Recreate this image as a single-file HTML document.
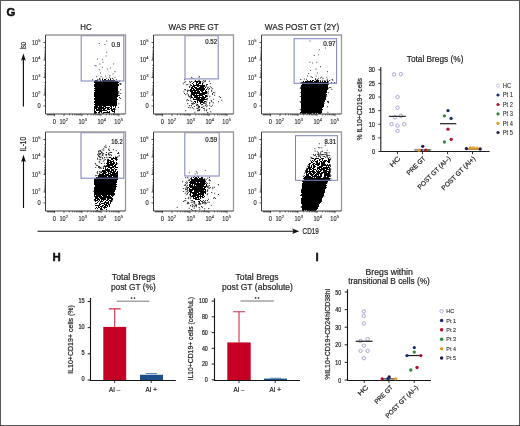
<!DOCTYPE html>
<html><head><meta charset="utf-8"><style>
html,body{margin:0;padding:0;background:#fff;}
svg{display:block;}
text{font-family:"Liberation Sans", sans-serif;}
</style></head><body>
<svg width="520" height="426" viewBox="0 0 520 426" font-family='"Liberation Sans", sans-serif' fill="#262626">
<rect x="0" y="0" width="520" height="426" fill="#fff"/>
<g>
<path d="M103 80.5h6M95 81.5h23M95 82.5h23M303 82.5h25M95 83.5h23M303 83.5h25M95 84.5h23M303 84.5h25M95 85.5h23M302 85.5h26M95 86.5h23M301 86.5h26M95 87.5h23M301 87.5h26M95 88.5h23M301 88.5h26M95 89.5h23M301 89.5h26M95 90.5h23M301 90.5h26M95 91.5h23M301 91.5h26M95 92.5h23M301 92.5h25M95 93.5h23M301 93.5h25M95 94.5h23M301 94.5h25M95 95.5h23M301 95.5h25M95 96.5h23M301 96.5h25M95 97.5h22M301 97.5h24M95 98.5h22M301 98.5h24M95 99.5h22M301 99.5h24M95 100.5h22M301 100.5h24M95 101.5h22M301 101.5h23M95 102.5h22M301 102.5h23M95 103.5h21M301 103.5h23M95 104.5h21M301 104.5h23M95 105.5h21M301 105.5h22M301 106.5h22M301 107.5h22M301 108.5h21M301 109.5h21M301 110.5h21M301 111.5h21M301 112.5h20M98 176.5h1M97 177.5h20M95 178.5h22M95 179.5h22M304 179.5h25M95 180.5h21M303 180.5h26M95 181.5h21M303 181.5h24M95 182.5h21M303 182.5h24M95 183.5h21M303 183.5h23M95 184.5h21M303 184.5h23M95 185.5h21M302 185.5h24M95 186.5h21M302 186.5h24M95 187.5h21M302 187.5h23M95 188.5h20M302 188.5h23M95 189.5h20M302 189.5h23M95 190.5h20M302 190.5h23M95 191.5h20M302 191.5h22M95 192.5h19M302 192.5h22M95 193.5h19M302 193.5h22M95 194.5h19M302 194.5h22M302 195.5h21M302 196.5h21M302 197.5h20M302 198.5h20M302 199.5h19M302 200.5h19M302 201.5h18M302 202.5h18M302 203.5h18M302 204.5h17M302 205.5h17M302 206.5h16M302 207.5h16M302 208.5h15M302 209.5h15" stroke="#000" stroke-width="1" fill="none" shape-rendering="crispEdges"/>
<path d="M102.0 79.5h1M104.0 79.5h1M105.0 79.5h1M108.0 79.5h1M110.0 79.5h1M95.0 80.5h1M96.0 80.5h1M97.0 80.5h1M100.0 80.5h1M102.0 80.5h1M109.0 80.5h1M110.0 80.5h1M111.0 80.5h1M112.0 80.5h1M113.0 80.5h1M114.0 80.5h1M310.0 80.5h1M312.0 80.5h1M313.0 80.5h1M316.0 80.5h1M317.0 80.5h1M318.0 80.5h1M94.0 81.5h1M195.0 81.5h1M196.0 81.5h1M197.0 81.5h1M198.0 81.5h1M199.0 81.5h1M200.0 81.5h1M303.0 81.5h1M305.0 81.5h1M306.0 81.5h1M307.0 81.5h1M308.0 81.5h1M309.0 81.5h1M310.0 81.5h1M311.0 81.5h1M312.0 81.5h1M314.0 81.5h1M315.0 81.5h1M316.0 81.5h1M317.0 81.5h1M318.0 81.5h1M320.0 81.5h1M322.0 81.5h1M324.0 81.5h1M325.0 81.5h1M327.0 81.5h1M94.0 82.5h1M118.0 82.5h1M193.0 82.5h1M196.0 82.5h1M197.0 82.5h1M199.0 82.5h1M200.0 82.5h1M302.0 82.5h1M192.0 83.5h1M196.0 83.5h1M198.0 83.5h1M199.0 83.5h1M200.0 83.5h1M202.0 83.5h1M301.0 83.5h1M302.0 83.5h1M94.0 84.5h1M118.0 84.5h1M193.0 84.5h1M196.0 84.5h1M197.0 84.5h1M198.0 84.5h1M202.0 84.5h1M302.0 84.5h1M94.0 85.5h1M118.0 85.5h1M191.0 85.5h1M193.0 85.5h1M194.0 85.5h1M195.0 85.5h1M196.0 85.5h1M197.0 85.5h1M198.0 85.5h1M199.0 85.5h1M200.0 85.5h1M201.0 85.5h1M202.0 85.5h1M203.0 85.5h1M204.0 85.5h1M301.0 85.5h1M94.0 86.5h1M192.0 86.5h1M193.0 86.5h1M194.0 86.5h1M197.0 86.5h1M198.0 86.5h1M200.0 86.5h1M201.0 86.5h1M202.0 86.5h1M203.0 86.5h1M204.0 86.5h1M327.0 86.5h1M191.0 87.5h1M192.0 87.5h1M194.0 87.5h1M195.0 87.5h1M196.0 87.5h1M199.0 87.5h1M200.0 87.5h1M201.0 87.5h1M202.0 87.5h1M203.0 87.5h1M205.0 87.5h1M327.0 87.5h1M94.0 88.5h1M191.0 88.5h1M192.0 88.5h1M193.0 88.5h1M195.0 88.5h1M196.0 88.5h1M197.0 88.5h1M198.0 88.5h1M199.0 88.5h1M200.0 88.5h1M201.0 88.5h1M202.0 88.5h1M203.0 88.5h1M204.0 88.5h1M327.0 88.5h1M190.0 89.5h1M191.0 89.5h1M193.0 89.5h1M194.0 89.5h1M196.0 89.5h1M197.0 89.5h1M198.0 89.5h1M199.0 89.5h1M200.0 89.5h1M201.0 89.5h1M202.0 89.5h1M203.0 89.5h1M204.0 89.5h1M206.0 89.5h1M327.0 89.5h1M94.0 90.5h1M190.0 90.5h1M191.0 90.5h1M192.0 90.5h1M193.0 90.5h1M194.0 90.5h1M195.0 90.5h1M196.0 90.5h1M197.0 90.5h1M198.0 90.5h1M200.0 90.5h1M201.0 90.5h1M202.0 90.5h1M203.0 90.5h1M205.0 90.5h1M190.0 91.5h1M191.0 91.5h1M192.0 91.5h1M194.0 91.5h1M195.0 91.5h1M197.0 91.5h1M198.0 91.5h1M199.0 91.5h1M201.0 91.5h1M202.0 91.5h1M205.0 91.5h1M206.0 91.5h1M94.0 92.5h1M191.0 92.5h1M192.0 92.5h1M193.0 92.5h1M194.0 92.5h1M195.0 92.5h1M196.0 92.5h1M197.0 92.5h1M198.0 92.5h1M199.0 92.5h1M202.0 92.5h1M203.0 92.5h1M204.0 92.5h1M205.0 92.5h1M206.0 92.5h1M326.0 92.5h1M94.0 93.5h1M191.0 93.5h1M192.0 93.5h1M193.0 93.5h1M194.0 93.5h1M195.0 93.5h1M196.0 93.5h1M197.0 93.5h1M198.0 93.5h1M199.0 93.5h1M200.0 93.5h1M201.0 93.5h1M202.0 93.5h1M203.0 93.5h1M204.0 93.5h1M205.0 93.5h1M206.0 93.5h1M94.0 94.5h1M191.0 94.5h1M192.0 94.5h1M193.0 94.5h1M194.0 94.5h1M196.0 94.5h1M199.0 94.5h1M200.0 94.5h1M201.0 94.5h1M202.0 94.5h1M203.0 94.5h1M204.0 94.5h1M326.0 94.5h1M94.0 95.5h1M191.0 95.5h1M193.0 95.5h1M194.0 95.5h1M195.0 95.5h1M196.0 95.5h1M197.0 95.5h1M198.0 95.5h1M199.0 95.5h1M200.0 95.5h1M201.0 95.5h1M202.0 95.5h1M205.0 95.5h1M206.0 95.5h1M94.0 96.5h1M191.0 96.5h1M194.0 96.5h1M195.0 96.5h1M196.0 96.5h1M197.0 96.5h1M199.0 96.5h1M202.0 96.5h1M203.0 96.5h1M205.0 96.5h1M206.0 96.5h1M191.0 97.5h1M192.0 97.5h1M194.0 97.5h1M195.0 97.5h1M196.0 97.5h1M197.0 97.5h1M198.0 97.5h1M199.0 97.5h1M200.0 97.5h1M201.0 97.5h1M202.0 97.5h1M203.0 97.5h1M204.0 97.5h1M205.0 97.5h1M325.0 97.5h1M94.0 98.5h1M193.0 98.5h1M196.0 98.5h1M197.0 98.5h1M198.0 98.5h1M199.0 98.5h1M201.0 98.5h1M202.0 98.5h1M203.0 98.5h1M204.0 98.5h1M325.0 98.5h1M94.0 99.5h1M117.0 99.5h1M193.0 99.5h1M194.0 99.5h1M195.0 99.5h1M196.0 99.5h1M197.0 99.5h1M198.0 99.5h1M199.0 99.5h1M200.0 99.5h1M201.0 99.5h1M202.0 99.5h1M203.0 99.5h1M204.0 99.5h1M205.0 99.5h1M325.0 99.5h1M197.0 100.5h1M198.0 100.5h1M199.0 100.5h1M200.0 100.5h1M201.0 100.5h1M202.0 100.5h1M203.0 100.5h1M94.0 101.5h1M194.0 101.5h1M195.0 101.5h1M197.0 101.5h1M199.0 101.5h1M200.0 101.5h1M201.0 101.5h1M202.0 101.5h1M204.0 101.5h1M324.0 101.5h1M94.0 102.5h1M195.0 102.5h1M197.0 102.5h1M200.0 102.5h1M201.0 102.5h1M202.0 102.5h1M203.0 102.5h1M116.0 103.5h1M200.0 103.5h1M94.0 104.5h1M116.0 104.5h1M197.0 104.5h1M116.0 105.5h1M323.0 105.5h1M94.0 106.5h1M95.0 106.5h1M96.0 106.5h1M97.0 106.5h1M99.0 106.5h1M100.0 106.5h1M101.0 106.5h1M103.0 106.5h1M104.0 106.5h1M105.0 106.5h1M110.0 106.5h1M111.0 106.5h1M113.0 106.5h1M115.0 106.5h1M323.0 106.5h1M94.0 107.5h1M95.0 107.5h1M96.0 107.5h1M97.0 107.5h1M98.0 107.5h1M99.0 107.5h1M100.0 107.5h1M101.0 107.5h1M102.0 107.5h1M103.0 107.5h1M105.0 107.5h1M106.0 107.5h1M107.0 107.5h1M108.0 107.5h1M109.0 107.5h1M111.0 107.5h1M115.0 107.5h1M94.0 108.5h1M95.0 108.5h1M96.0 108.5h1M98.0 108.5h1M99.0 108.5h1M100.0 108.5h1M101.0 108.5h1M102.0 108.5h1M103.0 108.5h1M104.0 108.5h1M105.0 108.5h1M107.0 108.5h1M108.0 108.5h1M110.0 108.5h1M111.0 108.5h1M113.0 108.5h1M114.0 108.5h1M94.0 109.5h1M96.0 109.5h1M97.0 109.5h1M98.0 109.5h1M99.0 109.5h1M100.0 109.5h1M101.0 109.5h1M103.0 109.5h1M104.0 109.5h1M107.0 109.5h1M108.0 109.5h1M109.0 109.5h1M111.0 109.5h1M112.0 109.5h1M113.0 109.5h1M114.0 109.5h1M322.0 109.5h1M94.0 110.5h1M96.0 110.5h1M97.0 110.5h1M98.0 110.5h1M99.0 110.5h1M100.0 110.5h1M101.0 110.5h1M102.0 110.5h1M103.0 110.5h1M104.0 110.5h1M105.0 110.5h1M106.0 110.5h1M111.0 110.5h1M112.0 110.5h1M114.0 110.5h1M94.0 111.5h1M95.0 111.5h1M99.0 111.5h1M100.0 111.5h1M101.0 111.5h1M107.0 111.5h1M109.0 111.5h1M112.0 111.5h1M113.0 111.5h1M114.0 111.5h1M94.0 112.5h1M95.0 112.5h1M96.0 112.5h1M98.0 112.5h1M99.0 112.5h1M101.0 112.5h1M103.0 112.5h1M104.0 112.5h1M105.0 112.5h1M106.0 112.5h1M107.0 112.5h1M108.0 112.5h1M109.0 112.5h1M114.0 112.5h1M300.0 112.5h1M321.0 112.5h1M302.0 113.5h1M303.0 113.5h1M304.0 113.5h1M305.0 113.5h1M307.0 113.5h1M308.0 113.5h1M309.0 113.5h1M310.0 113.5h1M311.0 113.5h1M313.0 113.5h1M314.0 113.5h1M316.0 113.5h1M318.0 113.5h1M319.0 113.5h1M320.0 113.5h1M109.0 157.5h1M110.0 157.5h1M113.0 157.5h1M115.0 157.5h1M116.0 157.5h1M111.0 158.5h1M112.0 158.5h1M113.0 158.5h1M114.0 158.5h1M115.0 158.5h1M116.0 158.5h1M312.0 158.5h1M313.0 158.5h1M315.0 158.5h1M316.0 158.5h1M317.0 158.5h1M318.0 158.5h1M321.0 158.5h1M322.0 158.5h1M323.0 158.5h1M328.0 158.5h1M108.0 159.5h1M111.0 159.5h1M112.0 159.5h1M115.0 159.5h1M116.0 159.5h1M314.0 159.5h1M315.0 159.5h1M319.0 159.5h1M320.0 159.5h1M322.0 159.5h1M328.0 159.5h1M329.0 159.5h1M107.0 160.5h1M108.0 160.5h1M109.0 160.5h1M110.0 160.5h1M113.0 160.5h1M116.0 160.5h1M312.0 160.5h1M314.0 160.5h1M317.0 160.5h1M319.0 160.5h1M322.0 160.5h1M324.0 160.5h1M325.0 160.5h1M326.0 160.5h1M328.0 160.5h1M329.0 160.5h1M107.0 161.5h1M108.0 161.5h1M110.0 161.5h1M111.0 161.5h1M112.0 161.5h1M113.0 161.5h1M311.0 161.5h1M313.0 161.5h1M315.0 161.5h1M316.0 161.5h1M317.0 161.5h1M320.0 161.5h1M321.0 161.5h1M323.0 161.5h1M324.0 161.5h1M325.0 161.5h1M327.0 161.5h1M328.0 161.5h1M329.0 161.5h1M107.0 162.5h1M108.0 162.5h1M109.0 162.5h1M110.0 162.5h1M111.0 162.5h1M113.0 162.5h1M114.0 162.5h1M116.0 162.5h1M311.0 162.5h1M312.0 162.5h1M316.0 162.5h1M317.0 162.5h1M319.0 162.5h1M321.0 162.5h1M322.0 162.5h1M323.0 162.5h1M324.0 162.5h1M328.0 162.5h1M329.0 162.5h1M106.0 163.5h1M107.0 163.5h1M108.0 163.5h1M110.0 163.5h1M111.0 163.5h1M112.0 163.5h1M113.0 163.5h1M114.0 163.5h1M116.0 163.5h1M309.0 163.5h1M310.0 163.5h1M313.0 163.5h1M314.0 163.5h1M316.0 163.5h1M317.0 163.5h1M318.0 163.5h1M319.0 163.5h1M321.0 163.5h1M322.0 163.5h1M323.0 163.5h1M324.0 163.5h1M107.0 164.5h1M108.0 164.5h1M109.0 164.5h1M110.0 164.5h1M111.0 164.5h1M112.0 164.5h1M113.0 164.5h1M115.0 164.5h1M116.0 164.5h1M309.0 164.5h1M312.0 164.5h1M313.0 164.5h1M315.0 164.5h1M316.0 164.5h1M317.0 164.5h1M318.0 164.5h1M319.0 164.5h1M321.0 164.5h1M322.0 164.5h1M323.0 164.5h1M324.0 164.5h1M325.0 164.5h1M327.0 164.5h1M329.0 164.5h1M106.0 165.5h1M107.0 165.5h1M108.0 165.5h1M109.0 165.5h1M110.0 165.5h1M111.0 165.5h1M112.0 165.5h1M114.0 165.5h1M115.0 165.5h1M309.0 165.5h1M311.0 165.5h1M313.0 165.5h1M314.0 165.5h1M317.0 165.5h1M318.0 165.5h1M321.0 165.5h1M322.0 165.5h1M323.0 165.5h1M324.0 165.5h1M325.0 165.5h1M326.0 165.5h1M327.0 165.5h1M328.0 165.5h1M329.0 165.5h1M104.0 166.5h1M105.0 166.5h1M106.0 166.5h1M107.0 166.5h1M108.0 166.5h1M109.0 166.5h1M112.0 166.5h1M113.0 166.5h1M114.0 166.5h1M115.0 166.5h1M308.0 166.5h1M309.0 166.5h1M311.0 166.5h1M313.0 166.5h1M314.0 166.5h1M315.0 166.5h1M319.0 166.5h1M320.0 166.5h1M321.0 166.5h1M322.0 166.5h1M326.0 166.5h1M328.0 166.5h1M105.0 167.5h1M108.0 167.5h1M109.0 167.5h1M110.0 167.5h1M111.0 167.5h1M112.0 167.5h1M113.0 167.5h1M115.0 167.5h1M116.0 167.5h1M117.0 167.5h1M308.0 167.5h1M309.0 167.5h1M310.0 167.5h1M311.0 167.5h1M313.0 167.5h1M314.0 167.5h1M317.0 167.5h1M318.0 167.5h1M319.0 167.5h1M320.0 167.5h1M321.0 167.5h1M323.0 167.5h1M324.0 167.5h1M325.0 167.5h1M326.0 167.5h1M327.0 167.5h1M328.0 167.5h1M329.0 167.5h1M103.0 168.5h1M105.0 168.5h1M107.0 168.5h1M110.0 168.5h1M111.0 168.5h1M114.0 168.5h1M307.0 168.5h1M308.0 168.5h1M309.0 168.5h1M310.0 168.5h1M312.0 168.5h1M313.0 168.5h1M317.0 168.5h1M318.0 168.5h1M319.0 168.5h1M321.0 168.5h1M322.0 168.5h1M323.0 168.5h1M324.0 168.5h1M325.0 168.5h1M326.0 168.5h1M327.0 168.5h1M329.0 168.5h1M105.0 169.5h1M106.0 169.5h1M107.0 169.5h1M108.0 169.5h1M109.0 169.5h1M111.0 169.5h1M112.0 169.5h1M113.0 169.5h1M115.0 169.5h1M116.0 169.5h1M306.0 169.5h1M307.0 169.5h1M309.0 169.5h1M310.0 169.5h1M311.0 169.5h1M313.0 169.5h1M314.0 169.5h1M315.0 169.5h1M317.0 169.5h1M319.0 169.5h1M320.0 169.5h1M321.0 169.5h1M322.0 169.5h1M323.0 169.5h1M324.0 169.5h1M326.0 169.5h1M327.0 169.5h1M328.0 169.5h1M329.0 169.5h1M102.0 170.5h1M103.0 170.5h1M104.0 170.5h1M105.0 170.5h1M106.0 170.5h1M107.0 170.5h1M108.0 170.5h1M109.0 170.5h1M111.0 170.5h1M112.0 170.5h1M113.0 170.5h1M115.0 170.5h1M306.0 170.5h1M307.0 170.5h1M309.0 170.5h1M312.0 170.5h1M313.0 170.5h1M316.0 170.5h1M318.0 170.5h1M320.0 170.5h1M321.0 170.5h1M323.0 170.5h1M324.0 170.5h1M325.0 170.5h1M326.0 170.5h1M329.0 170.5h1M102.0 171.5h1M103.0 171.5h1M104.0 171.5h1M105.0 171.5h1M107.0 171.5h1M108.0 171.5h1M109.0 171.5h1M110.0 171.5h1M111.0 171.5h1M113.0 171.5h1M114.0 171.5h1M115.0 171.5h1M117.0 171.5h1M306.0 171.5h1M307.0 171.5h1M308.0 171.5h1M309.0 171.5h1M310.0 171.5h1M311.0 171.5h1M312.0 171.5h1M313.0 171.5h1M314.0 171.5h1M316.0 171.5h1M317.0 171.5h1M318.0 171.5h1M319.0 171.5h1M320.0 171.5h1M323.0 171.5h1M324.0 171.5h1M325.0 171.5h1M326.0 171.5h1M327.0 171.5h1M328.0 171.5h1M329.0 171.5h1M101.0 172.5h1M103.0 172.5h1M104.0 172.5h1M105.0 172.5h1M106.0 172.5h1M108.0 172.5h1M110.0 172.5h1M111.0 172.5h1M112.0 172.5h1M113.0 172.5h1M114.0 172.5h1M116.0 172.5h1M117.0 172.5h1M306.0 172.5h1M307.0 172.5h1M309.0 172.5h1M310.0 172.5h1M312.0 172.5h1M313.0 172.5h1M314.0 172.5h1M315.0 172.5h1M317.0 172.5h1M318.0 172.5h1M319.0 172.5h1M321.0 172.5h1M322.0 172.5h1M323.0 172.5h1M324.0 172.5h1M325.0 172.5h1M326.0 172.5h1M328.0 172.5h1M329.0 172.5h1M102.0 173.5h1M103.0 173.5h1M104.0 173.5h1M105.0 173.5h1M108.0 173.5h1M109.0 173.5h1M110.0 173.5h1M112.0 173.5h1M113.0 173.5h1M114.0 173.5h1M115.0 173.5h1M116.0 173.5h1M117.0 173.5h1M306.0 173.5h1M308.0 173.5h1M309.0 173.5h1M310.0 173.5h1M311.0 173.5h1M313.0 173.5h1M314.0 173.5h1M316.0 173.5h1M317.0 173.5h1M318.0 173.5h1M319.0 173.5h1M320.0 173.5h1M321.0 173.5h1M322.0 173.5h1M324.0 173.5h1M325.0 173.5h1M326.0 173.5h1M327.0 173.5h1M328.0 173.5h1M329.0 173.5h1M99.0 174.5h1M100.0 174.5h1M101.0 174.5h1M102.0 174.5h1M103.0 174.5h1M105.0 174.5h1M106.0 174.5h1M107.0 174.5h1M108.0 174.5h1M110.0 174.5h1M111.0 174.5h1M112.0 174.5h1M113.0 174.5h1M114.0 174.5h1M115.0 174.5h1M116.0 174.5h1M117.0 174.5h1M306.0 174.5h1M307.0 174.5h1M308.0 174.5h1M310.0 174.5h1M311.0 174.5h1M312.0 174.5h1M313.0 174.5h1M315.0 174.5h1M316.0 174.5h1M317.0 174.5h1M318.0 174.5h1M320.0 174.5h1M321.0 174.5h1M324.0 174.5h1M325.0 174.5h1M326.0 174.5h1M327.0 174.5h1M328.0 174.5h1M329.0 174.5h1M98.0 175.5h1M99.0 175.5h1M100.0 175.5h1M101.0 175.5h1M102.0 175.5h1M103.0 175.5h1M104.0 175.5h1M105.0 175.5h1M106.0 175.5h1M107.0 175.5h1M108.0 175.5h1M109.0 175.5h1M110.0 175.5h1M111.0 175.5h1M112.0 175.5h1M113.0 175.5h1M114.0 175.5h1M115.0 175.5h1M116.0 175.5h1M117.0 175.5h1M306.0 175.5h1M307.0 175.5h1M308.0 175.5h1M311.0 175.5h1M312.0 175.5h1M314.0 175.5h1M315.0 175.5h1M316.0 175.5h1M318.0 175.5h1M320.0 175.5h1M321.0 175.5h1M324.0 175.5h1M325.0 175.5h1M326.0 175.5h1M327.0 175.5h1M328.0 175.5h1M329.0 175.5h1M99.0 176.5h1M100.0 176.5h1M101.0 176.5h1M102.0 176.5h1M103.0 176.5h1M104.0 176.5h1M105.0 176.5h1M106.0 176.5h1M108.0 176.5h1M109.0 176.5h1M110.0 176.5h1M111.0 176.5h1M113.0 176.5h1M114.0 176.5h1M115.0 176.5h1M116.0 176.5h1M117.0 176.5h1M305.0 176.5h1M306.0 176.5h1M307.0 176.5h1M308.0 176.5h1M309.0 176.5h1M310.0 176.5h1M312.0 176.5h1M313.0 176.5h1M314.0 176.5h1M315.0 176.5h1M316.0 176.5h1M317.0 176.5h1M318.0 176.5h1M319.0 176.5h1M320.0 176.5h1M321.0 176.5h1M324.0 176.5h1M325.0 176.5h1M327.0 176.5h1M328.0 176.5h1M329.0 176.5h1M96.0 177.5h1M117.0 177.5h1M193.0 177.5h1M195.0 177.5h1M196.0 177.5h1M198.0 177.5h1M201.0 177.5h1M202.0 177.5h1M304.0 177.5h1M305.0 177.5h1M306.0 177.5h1M307.0 177.5h1M308.0 177.5h1M309.0 177.5h1M310.0 177.5h1M311.0 177.5h1M312.0 177.5h1M314.0 177.5h1M316.0 177.5h1M317.0 177.5h1M318.0 177.5h1M319.0 177.5h1M320.0 177.5h1M323.0 177.5h1M324.0 177.5h1M325.0 177.5h1M326.0 177.5h1M327.0 177.5h1M328.0 177.5h1M117.0 178.5h1M191.0 178.5h1M194.0 178.5h1M195.0 178.5h1M196.0 178.5h1M197.0 178.5h1M199.0 178.5h1M200.0 178.5h1M201.0 178.5h1M202.0 178.5h1M303.0 178.5h1M304.0 178.5h1M305.0 178.5h1M306.0 178.5h1M307.0 178.5h1M308.0 178.5h1M309.0 178.5h1M310.0 178.5h1M311.0 178.5h1M312.0 178.5h1M313.0 178.5h1M314.0 178.5h1M315.0 178.5h1M316.0 178.5h1M317.0 178.5h1M318.0 178.5h1M319.0 178.5h1M320.0 178.5h1M321.0 178.5h1M322.0 178.5h1M323.0 178.5h1M324.0 178.5h1M325.0 178.5h1M326.0 178.5h1M327.0 178.5h1M328.0 178.5h1M329.0 178.5h1M94.0 179.5h1M117.0 179.5h1M191.0 179.5h1M192.0 179.5h1M193.0 179.5h1M194.0 179.5h1M195.0 179.5h1M196.0 179.5h1M197.0 179.5h1M198.0 179.5h1M199.0 179.5h1M200.0 179.5h1M201.0 179.5h1M202.0 179.5h1M203.0 179.5h1M204.0 179.5h1M329.0 179.5h1M94.0 180.5h1M116.0 180.5h1M191.0 180.5h1M192.0 180.5h1M193.0 180.5h1M194.0 180.5h1M195.0 180.5h1M196.0 180.5h1M197.0 180.5h1M198.0 180.5h1M199.0 180.5h1M200.0 180.5h1M201.0 180.5h1M202.0 180.5h1M203.0 180.5h1M204.0 180.5h1M302.0 180.5h1M329.0 180.5h1M330.0 180.5h1M94.0 181.5h1M116.0 181.5h1M190.0 181.5h1M191.0 181.5h1M192.0 181.5h1M193.0 181.5h1M194.0 181.5h1M195.0 181.5h1M196.0 181.5h1M197.0 181.5h1M198.0 181.5h1M199.0 181.5h1M200.0 181.5h1M201.0 181.5h1M202.0 181.5h1M203.0 181.5h1M204.0 181.5h1M205.0 181.5h1M302.0 181.5h1M327.0 181.5h1M94.0 182.5h1M116.0 182.5h1M189.0 182.5h1M190.0 182.5h1M191.0 182.5h1M192.0 182.5h1M193.0 182.5h1M194.0 182.5h1M195.0 182.5h1M197.0 182.5h1M198.0 182.5h1M200.0 182.5h1M201.0 182.5h1M202.0 182.5h1M203.0 182.5h1M204.0 182.5h1M94.0 183.5h1M190.0 183.5h1M191.0 183.5h1M192.0 183.5h1M193.0 183.5h1M194.0 183.5h1M195.0 183.5h1M196.0 183.5h1M197.0 183.5h1M198.0 183.5h1M199.0 183.5h1M200.0 183.5h1M201.0 183.5h1M202.0 183.5h1M203.0 183.5h1M204.0 183.5h1M205.0 183.5h1M302.0 183.5h1M326.0 183.5h1M94.0 184.5h1M116.0 184.5h1M189.0 184.5h1M190.0 184.5h1M192.0 184.5h1M194.0 184.5h1M195.0 184.5h1M196.0 184.5h1M197.0 184.5h1M198.0 184.5h1M199.0 184.5h1M200.0 184.5h1M201.0 184.5h1M202.0 184.5h1M203.0 184.5h1M204.0 184.5h1M206.0 184.5h1M302.0 184.5h1M189.0 185.5h1M190.0 185.5h1M191.0 185.5h1M192.0 185.5h1M194.0 185.5h1M196.0 185.5h1M197.0 185.5h1M198.0 185.5h1M199.0 185.5h1M200.0 185.5h1M201.0 185.5h1M202.0 185.5h1M203.0 185.5h1M206.0 185.5h1M326.0 185.5h1M116.0 186.5h1M189.0 186.5h1M190.0 186.5h1M191.0 186.5h1M192.0 186.5h1M193.0 186.5h1M194.0 186.5h1M195.0 186.5h1M196.0 186.5h1M197.0 186.5h1M198.0 186.5h1M199.0 186.5h1M200.0 186.5h1M201.0 186.5h1M202.0 186.5h1M203.0 186.5h1M204.0 186.5h1M205.0 186.5h1M206.0 186.5h1M94.0 187.5h1M188.0 187.5h1M190.0 187.5h1M191.0 187.5h1M192.0 187.5h1M193.0 187.5h1M194.0 187.5h1M195.0 187.5h1M196.0 187.5h1M197.0 187.5h1M198.0 187.5h1M199.0 187.5h1M200.0 187.5h1M201.0 187.5h1M202.0 187.5h1M204.0 187.5h1M205.0 187.5h1M325.0 187.5h1M94.0 188.5h1M115.0 188.5h1M189.0 188.5h1M192.0 188.5h1M193.0 188.5h1M194.0 188.5h1M195.0 188.5h1M196.0 188.5h1M197.0 188.5h1M198.0 188.5h1M199.0 188.5h1M200.0 188.5h1M201.0 188.5h1M202.0 188.5h1M203.0 188.5h1M204.0 188.5h1M325.0 188.5h1M94.0 189.5h1M115.0 189.5h1M189.0 189.5h1M190.0 189.5h1M191.0 189.5h1M192.0 189.5h1M193.0 189.5h1M194.0 189.5h1M195.0 189.5h1M196.0 189.5h1M197.0 189.5h1M198.0 189.5h1M199.0 189.5h1M200.0 189.5h1M201.0 189.5h1M202.0 189.5h1M203.0 189.5h1M204.0 189.5h1M205.0 189.5h1M94.0 190.5h1M189.0 190.5h1M190.0 190.5h1M191.0 190.5h1M192.0 190.5h1M194.0 190.5h1M195.0 190.5h1M196.0 190.5h1M197.0 190.5h1M198.0 190.5h1M199.0 190.5h1M200.0 190.5h1M201.0 190.5h1M202.0 190.5h1M203.0 190.5h1M205.0 190.5h1M301.0 190.5h1M94.0 191.5h1M189.0 191.5h1M190.0 191.5h1M191.0 191.5h1M194.0 191.5h1M195.0 191.5h1M196.0 191.5h1M197.0 191.5h1M198.0 191.5h1M199.0 191.5h1M200.0 191.5h1M201.0 191.5h1M202.0 191.5h1M203.0 191.5h1M204.0 191.5h1M205.0 191.5h1M301.0 191.5h1M324.0 191.5h1M94.0 192.5h1M190.0 192.5h1M191.0 192.5h1M192.0 192.5h1M193.0 192.5h1M194.0 192.5h1M195.0 192.5h1M196.0 192.5h1M197.0 192.5h1M198.0 192.5h1M200.0 192.5h1M201.0 192.5h1M202.0 192.5h1M203.0 192.5h1M204.0 192.5h1M205.0 192.5h1M301.0 192.5h1M324.0 192.5h1M94.0 193.5h1M114.0 193.5h1M190.0 193.5h1M192.0 193.5h1M193.0 193.5h1M194.0 193.5h1M195.0 193.5h1M196.0 193.5h1M198.0 193.5h1M199.0 193.5h1M200.0 193.5h1M201.0 193.5h1M202.0 193.5h1M203.0 193.5h1M205.0 193.5h1M94.0 194.5h1M114.0 194.5h1M190.0 194.5h1M193.0 194.5h1M194.0 194.5h1M195.0 194.5h1M196.0 194.5h1M197.0 194.5h1M198.0 194.5h1M199.0 194.5h1M200.0 194.5h1M201.0 194.5h1M202.0 194.5h1M203.0 194.5h1M301.0 194.5h1M94.0 195.5h1M96.0 195.5h1M97.0 195.5h1M98.0 195.5h1M99.0 195.5h1M100.0 195.5h1M102.0 195.5h1M103.0 195.5h1M104.0 195.5h1M105.0 195.5h1M106.0 195.5h1M108.0 195.5h1M109.0 195.5h1M111.0 195.5h1M112.0 195.5h1M113.0 195.5h1M190.0 195.5h1M192.0 195.5h1M193.0 195.5h1M194.0 195.5h1M195.0 195.5h1M196.0 195.5h1M197.0 195.5h1M198.0 195.5h1M200.0 195.5h1M202.0 195.5h1M203.0 195.5h1M301.0 195.5h1M323.0 195.5h1M94.0 196.5h1M95.0 196.5h1M96.0 196.5h1M97.0 196.5h1M98.0 196.5h1M99.0 196.5h1M100.0 196.5h1M101.0 196.5h1M103.0 196.5h1M104.0 196.5h1M105.0 196.5h1M106.0 196.5h1M107.0 196.5h1M108.0 196.5h1M109.0 196.5h1M110.0 196.5h1M112.0 196.5h1M191.0 196.5h1M192.0 196.5h1M193.0 196.5h1M194.0 196.5h1M195.0 196.5h1M197.0 196.5h1M198.0 196.5h1M199.0 196.5h1M200.0 196.5h1M201.0 196.5h1M202.0 196.5h1M204.0 196.5h1M95.0 197.5h1M96.0 197.5h1M97.0 197.5h1M99.0 197.5h1M100.0 197.5h1M101.0 197.5h1M102.0 197.5h1M103.0 197.5h1M104.0 197.5h1M105.0 197.5h1M106.0 197.5h1M107.0 197.5h1M108.0 197.5h1M109.0 197.5h1M110.0 197.5h1M111.0 197.5h1M193.0 197.5h1M195.0 197.5h1M196.0 197.5h1M197.0 197.5h1M198.0 197.5h1M200.0 197.5h1M202.0 197.5h1M203.0 197.5h1M322.0 197.5h1M95.0 198.5h1M96.0 198.5h1M97.0 198.5h1M98.0 198.5h1M100.0 198.5h1M101.0 198.5h1M102.0 198.5h1M103.0 198.5h1M104.0 198.5h1M105.0 198.5h1M107.0 198.5h1M108.0 198.5h1M109.0 198.5h1M110.0 198.5h1M111.0 198.5h1M112.0 198.5h1M193.0 198.5h1M194.0 198.5h1M195.0 198.5h1M196.0 198.5h1M198.0 198.5h1M200.0 198.5h1M301.0 198.5h1M94.0 199.5h1M95.0 199.5h1M97.0 199.5h1M98.0 199.5h1M99.0 199.5h1M101.0 199.5h1M102.0 199.5h1M103.0 199.5h1M104.0 199.5h1M105.0 199.5h1M107.0 199.5h1M108.0 199.5h1M111.0 199.5h1M112.0 199.5h1M195.0 199.5h1M196.0 199.5h1M197.0 199.5h1M198.0 199.5h1M199.0 199.5h1M301.0 199.5h1M321.0 199.5h1M95.0 200.5h1M96.0 200.5h1M97.0 200.5h1M99.0 200.5h1M101.0 200.5h1M103.0 200.5h1M106.0 200.5h1M107.0 200.5h1M109.0 200.5h1M110.0 200.5h1M111.0 200.5h1M200.0 200.5h1M301.0 200.5h1M321.0 200.5h1M95.0 201.5h1M98.0 201.5h1M100.0 201.5h1M101.0 201.5h1M102.0 201.5h1M105.0 201.5h1M108.0 201.5h1M110.0 201.5h1M111.0 201.5h1M194.0 201.5h1M198.0 201.5h1M199.0 201.5h1M201.0 201.5h1M301.0 201.5h1M320.0 201.5h1M97.0 202.5h1M100.0 202.5h1M104.0 202.5h1M105.0 202.5h1M106.0 202.5h1M107.0 202.5h1M108.0 202.5h1M110.0 202.5h1M199.0 202.5h1M301.0 202.5h1M320.0 202.5h1M95.0 203.5h1M96.0 203.5h1M99.0 203.5h1M101.0 203.5h1M102.0 203.5h1M103.0 203.5h1M104.0 203.5h1M106.0 203.5h1M107.0 203.5h1M108.0 203.5h1M110.0 203.5h1M301.0 203.5h1M99.0 204.5h1M100.0 204.5h1M104.0 204.5h1M105.0 204.5h1M106.0 204.5h1M108.0 204.5h1M109.0 204.5h1M95.0 205.5h1M96.0 205.5h1M97.0 205.5h1M98.0 205.5h1M99.0 205.5h1M102.0 205.5h1M103.0 205.5h1M105.0 205.5h1M106.0 205.5h1M107.0 205.5h1M109.0 205.5h1M98.0 206.5h1M100.0 206.5h1M101.0 206.5h1M102.0 206.5h1M104.0 206.5h1M105.0 206.5h1M107.0 206.5h1M109.0 206.5h1M318.0 206.5h1M96.0 207.5h1M98.0 207.5h1M99.0 207.5h1M101.0 207.5h1M103.0 207.5h1M104.0 207.5h1M105.0 207.5h1M106.0 207.5h1M95.0 208.5h1M97.0 208.5h1M100.0 208.5h1M101.0 208.5h1M104.0 208.5h1M317.0 208.5h1M100.0 209.5h1M101.0 209.5h1M102.0 209.5h1M106.0 209.5h1M302.0 210.5h1M303.0 210.5h1M305.0 210.5h1M307.0 210.5h1M308.0 210.5h1M309.0 210.5h1M310.0 210.5h1M311.0 210.5h1M312.0 210.5h1M313.0 210.5h1M314.0 210.5h1M315.0 210.5h1" stroke="#050505" stroke-width="1" fill="none" shape-rendering="crispEdges"/>
<path d="M109.1 77.3h1.05M311.8 77.5h1.05M321.2 77.3h1.05M99.0 78.5h1.05M102.2 78.3h1.05M106.2 78.3h1.05M110.1 78.4h1.05M112.1 78.5h1.05M315.0 78.7h1.05M317.8 78.8h1.05M92.0 79.7h1.05M97.3 79.6h1.05M98.9 79.3h1.05M99.7 79.3h1.05M112.8 79.7h1.05M115.9 79.7h1.05M184.1 79.7h1.05M300.2 79.5h1.05M306.0 79.2h1.05M315.0 79.7h1.05M316.8 79.4h1.05M326.8 79.3h1.05M331.7 79.5h1.05M195.0 80.5h1.05M198.3 80.5h1.05M198.7 80.3h1.05M203.0 80.7h1.05M205.0 80.7h1.05M306.9 80.6h1.05M319.8 80.4h1.05M322.2 80.2h1.05M324.3 80.5h1.05M326.8 80.4h1.05M329.1 80.4h1.05M332.3 80.2h1.05M119.1 81.3h1.05M185.1 81.7h1.05M189.2 81.6h1.05M191.1 81.4h1.05M194.1 81.5h1.05M201.8 81.7h1.05M204.0 81.2h1.05M205.0 81.2h1.05M208.8 81.3h1.05M327.7 81.4h1.05M183.8 82.2h1.05M189.8 82.4h1.05M202.8 82.6h1.05M301.1 82.4h1.05M327.8 82.3h1.05M331.0 82.6h1.05M334.1 82.5h1.05M119.2 83.7h1.05M120.3 83.6h1.05M182.8 83.7h1.05M209.8 83.4h1.05M300.1 83.3h1.05M328.1 83.8h1.05M120.1 84.4h1.05M185.9 84.7h1.05M187.2 84.4h1.05M189.8 84.5h1.05M206.2 84.4h1.05M206.9 84.5h1.05M327.7 84.4h1.05M189.9 85.7h1.05M205.8 85.3h1.05M189.0 86.6h1.05M205.8 86.3h1.05M209.8 86.8h1.05M189.1 87.5h1.05M207.1 87.8h1.05M207.7 87.3h1.05M210.9 87.7h1.05M300.1 87.3h1.05M328.7 87.4h1.05M330.2 87.4h1.05M207.1 88.5h1.05M209.0 88.4h1.05M212.1 88.7h1.05M299.8 88.5h1.05M327.7 88.5h1.05M120.0 89.8h1.05M184.1 89.7h1.05M184.8 89.6h1.05M208.1 89.6h1.05M331.2 89.2h1.05M186.9 90.3h1.05M187.9 90.4h1.05M189.1 90.4h1.05M211.1 90.3h1.05M118.2 91.5h1.05M183.3 91.7h1.05M187.0 91.6h1.05M207.8 91.5h1.05M211.1 91.2h1.05M118.1 92.7h1.05M207.1 92.8h1.05M212.9 92.5h1.05M214.2 92.8h1.05M300.3 92.4h1.05M327.8 92.7h1.05M118.2 93.7h1.05M120.2 93.4h1.05M184.0 93.4h1.05M186.7 93.4h1.05M207.7 93.3h1.05M212.0 93.4h1.05M185.2 94.6h1.05M187.8 94.7h1.05M212.1 94.5h1.05M118.0 95.4h1.05M118.8 95.5h1.05M187.9 95.2h1.05M189.9 95.3h1.05M207.3 95.3h1.05M214.1 95.3h1.05M325.7 95.2h1.05M188.2 96.3h1.05M189.1 96.5h1.05M189.7 96.5h1.05M206.9 96.4h1.05M209.3 96.3h1.05M218.8 96.8h1.05M299.8 96.5h1.05M326.1 96.3h1.05M119.0 97.5h1.05M189.7 97.5h1.05M220.0 97.4h1.05M119.8 98.4h1.05M190.1 98.3h1.05M206.3 98.3h1.05M206.9 98.4h1.05M186.9 99.4h1.05M205.9 99.5h1.05M206.7 99.7h1.05M212.8 99.2h1.05M186.3 100.8h1.05M188.1 100.4h1.05M190.2 100.3h1.05M210.7 100.6h1.05M221.2 100.2h1.05M191.1 101.4h1.05M205.0 101.5h1.05M205.7 101.7h1.05M211.1 101.8h1.05M218.0 101.7h1.05M299.8 101.6h1.05M327.0 101.6h1.05M327.9 101.6h1.05M192.8 102.6h1.05M203.8 102.6h1.05M205.9 102.2h1.05M209.1 102.7h1.05M212.7 102.6h1.05M300.3 102.4h1.05M327.9 102.7h1.05M118.2 103.7h1.05M187.2 103.6h1.05M191.2 103.6h1.05M191.8 103.6h1.05M193.3 103.7h1.05M194.1 103.5h1.05M203.0 103.3h1.05M203.8 103.5h1.05M205.0 103.7h1.05M209.0 103.3h1.05M323.8 103.3h1.05M192.1 104.3h1.05M196.1 104.3h1.05M200.9 104.6h1.05M202.0 104.5h1.05M206.0 104.3h1.05M188.9 105.6h1.05M190.9 105.6h1.05M195.9 105.5h1.05M197.3 105.7h1.05M197.8 105.4h1.05M204.9 105.4h1.05M206.7 105.8h1.05M209.2 105.3h1.05M211.9 105.3h1.05M193.9 106.4h1.05M197.9 106.6h1.05M199.0 106.6h1.05M203.2 106.3h1.05M206.1 106.8h1.05M210.7 106.5h1.05M327.0 106.8h1.05M117.9 107.4h1.05M188.1 107.4h1.05M189.7 107.8h1.05M191.8 107.6h1.05M198.0 107.7h1.05M199.0 107.5h1.05M201.0 107.4h1.05M202.0 107.3h1.05M193.2 108.7h1.05M196.2 108.3h1.05M197.1 108.6h1.05M203.1 108.4h1.05M204.1 108.8h1.05M208.9 108.6h1.05M115.1 109.3h1.05M198.3 109.3h1.05M199.2 109.5h1.05M206.2 109.8h1.05M299.8 109.6h1.05M185.2 110.7h1.05M197.1 110.6h1.05M198.1 110.7h1.05M199.0 110.5h1.05M204.1 110.3h1.05M205.9 110.6h1.05M210.2 111.8h1.05M194.3 112.2h1.05M207.2 112.6h1.05M327.3 112.3h1.05M94.0 113.6h1.05M95.1 113.5h1.05M98.7 113.6h1.05M102.2 113.4h1.05M102.9 113.2h1.05M109.0 113.2h1.05M113.2 113.7h1.05M299.9 113.6h1.05M318.8 143.7h1.05M105.3 145.2h1.05M324.8 145.3h1.05M103.8 146.7h1.05M109.1 146.8h1.05M105.8 147.3h1.05M319.3 147.8h1.05M103.2 148.7h1.05M314.3 148.7h1.05M101.7 149.8h1.05M108.2 149.6h1.05M112.9 149.7h1.05M98.7 150.7h1.05M99.8 150.4h1.05M103.2 150.2h1.05M108.8 150.4h1.05M98.0 151.3h1.05M99.8 151.4h1.05M101.2 151.7h1.05M316.8 151.7h1.05M321.3 151.8h1.05M321.9 151.3h1.05M98.3 152.2h1.05M101.0 152.6h1.05M101.7 152.7h1.05M106.0 152.4h1.05M108.8 152.8h1.05M110.0 152.5h1.05M111.1 152.5h1.05M118.0 152.6h1.05M317.8 152.8h1.05M319.9 152.3h1.05M324.3 152.6h1.05M324.8 152.5h1.05M326.3 152.4h1.05M98.3 153.4h1.05M98.8 153.7h1.05M99.9 153.5h1.05M102.3 153.4h1.05M103.1 153.8h1.05M108.0 153.6h1.05M117.2 153.4h1.05M118.2 153.5h1.05M317.8 153.4h1.05M319.8 153.7h1.05M326.3 153.4h1.05M97.2 154.6h1.05M98.8 154.8h1.05M99.7 154.3h1.05M101.9 154.8h1.05M105.2 154.6h1.05M106.1 154.5h1.05M108.1 154.8h1.05M108.8 154.7h1.05M110.2 154.4h1.05M312.9 154.6h1.05M315.0 154.6h1.05M317.3 154.6h1.05M318.0 154.6h1.05M319.8 154.3h1.05M321.3 154.5h1.05M322.3 154.4h1.05M323.2 154.4h1.05M324.7 154.6h1.05M326.3 154.4h1.05M98.2 155.5h1.05M101.8 155.4h1.05M106.0 155.2h1.05M109.1 155.3h1.05M110.9 155.4h1.05M118.7 155.6h1.05M313.8 155.5h1.05M314.9 155.2h1.05M318.3 155.6h1.05M326.2 155.6h1.05M327.1 155.6h1.05M327.8 155.4h1.05M329.2 155.4h1.05M97.9 156.3h1.05M98.9 156.4h1.05M115.1 156.7h1.05M315.9 156.6h1.05M318.1 156.5h1.05M319.1 156.3h1.05M319.9 156.3h1.05M322.7 156.4h1.05M324.0 156.4h1.05M326.2 156.3h1.05M326.7 156.2h1.05M99.2 157.8h1.05M100.2 157.4h1.05M101.8 157.8h1.05M104.1 157.6h1.05M106.1 157.3h1.05M117.0 157.3h1.05M311.2 157.5h1.05M320.0 157.4h1.05M325.1 157.5h1.05M327.0 157.7h1.05M328.9 157.4h1.05M97.0 158.2h1.05M102.1 158.6h1.05M311.0 158.3h1.05M330.1 158.2h1.05M97.2 159.3h1.05M99.3 159.6h1.05M100.2 159.7h1.05M104.7 159.4h1.05M107.1 159.6h1.05M116.8 159.5h1.05M330.0 159.6h1.05M103.7 160.2h1.05M309.9 160.3h1.05M98.8 161.4h1.05M102.7 161.2h1.05M99.1 162.8h1.05M94.8 163.4h1.05M101.1 163.5h1.05M103.9 163.2h1.05M117.1 163.7h1.05M95.3 164.3h1.05M307.9 164.6h1.05M329.7 164.7h1.05M96.2 165.5h1.05M97.0 165.5h1.05M104.2 165.5h1.05M329.9 165.7h1.05M98.1 166.6h1.05M99.0 166.6h1.05M102.8 166.4h1.05M307.0 166.2h1.05M329.9 166.5h1.05M95.2 167.5h1.05M98.0 167.4h1.05M99.2 167.5h1.05M100.2 167.6h1.05M102.8 167.7h1.05M99.2 168.3h1.05M100.7 168.4h1.05M306.2 168.3h1.05M330.0 168.8h1.05M330.2 169.5h1.05M305.0 170.8h1.05M329.8 170.6h1.05M97.1 171.6h1.05M99.1 171.6h1.05M100.7 171.4h1.05M305.0 171.4h1.05M329.7 171.8h1.05M96.7 172.6h1.05M100.0 172.3h1.05M305.0 172.2h1.05M329.7 172.5h1.05M97.2 173.8h1.05M99.2 173.6h1.05M303.9 173.2h1.05M329.7 174.5h1.05M95.0 175.7h1.05M96.2 175.4h1.05M303.7 175.6h1.05M330.3 175.5h1.05M193.9 176.5h1.05M197.2 176.2h1.05M198.0 176.5h1.05M302.9 176.4h1.05M329.9 176.4h1.05M185.1 177.8h1.05M187.2 177.6h1.05M191.1 177.4h1.05M208.9 177.4h1.05M190.2 178.6h1.05M204.2 178.4h1.05M207.2 178.2h1.05M330.3 178.6h1.05M188.9 179.8h1.05M205.7 179.5h1.05M208.8 179.6h1.05M187.9 180.2h1.05M188.8 180.4h1.05M204.8 180.7h1.05M208.8 180.4h1.05M209.9 180.7h1.05M182.1 181.8h1.05M186.3 181.2h1.05M185.1 182.7h1.05M186.9 182.7h1.05M205.9 182.4h1.05M326.8 182.7h1.05M186.1 183.3h1.05M206.8 183.4h1.05M208.9 183.3h1.05M185.0 184.7h1.05M217.9 184.6h1.05M183.8 185.3h1.05M184.8 185.4h1.05M186.9 185.3h1.05M208.8 185.5h1.05M186.1 186.2h1.05M207.0 186.2h1.05M207.9 186.2h1.05M186.2 187.7h1.05M187.0 187.6h1.05M207.1 187.5h1.05M208.3 187.8h1.05M209.8 187.5h1.05M212.2 187.2h1.05M213.9 187.3h1.05M325.9 187.4h1.05M182.8 188.5h1.05M184.9 188.3h1.05M187.1 188.4h1.05M208.7 188.4h1.05M212.2 188.7h1.05M185.0 189.7h1.05M185.8 189.3h1.05M186.8 189.6h1.05M207.2 189.8h1.05M300.9 189.5h1.05M187.3 190.5h1.05M207.0 190.4h1.05M92.8 191.3h1.05M183.1 191.5h1.05M185.8 191.7h1.05M187.0 191.3h1.05M206.7 191.4h1.05M187.7 192.4h1.05M211.2 192.4h1.05M184.8 193.3h1.05M186.9 193.6h1.05M207.2 193.7h1.05M214.1 193.2h1.05M186.3 194.8h1.05M189.0 194.8h1.05M206.7 194.8h1.05M217.9 194.5h1.05M300.1 195.5h1.05M190.1 196.2h1.05M323.2 196.3h1.05M188.1 197.2h1.05M190.3 197.7h1.05M213.9 197.4h1.05M185.1 198.4h1.05M187.8 198.5h1.05M189.8 198.7h1.05M213.0 198.2h1.05M215.0 198.4h1.05M207.9 199.2h1.05M93.9 200.4h1.05M111.9 200.7h1.05M184.1 200.8h1.05M185.2 200.7h1.05M190.7 200.4h1.05M192.0 200.4h1.05M202.9 200.5h1.05M205.1 200.5h1.05M207.0 200.4h1.05M182.9 201.5h1.05M193.2 201.6h1.05M201.9 201.5h1.05M204.2 201.5h1.05M320.9 201.5h1.05M187.0 202.2h1.05M188.1 202.5h1.05M190.9 202.3h1.05M192.2 202.3h1.05M194.2 202.6h1.05M202.2 202.5h1.05M203.2 202.6h1.05M203.7 202.3h1.05M205.0 202.5h1.05M207.3 202.3h1.05M208.8 202.3h1.05M186.8 203.6h1.05M188.2 203.4h1.05M193.8 203.6h1.05M198.2 203.2h1.05M199.0 203.3h1.05M200.2 203.6h1.05M202.2 203.5h1.05M204.2 203.7h1.05M205.2 203.7h1.05M205.8 203.3h1.05M191.8 204.6h1.05M195.1 204.8h1.05M195.8 204.7h1.05M198.3 204.4h1.05M198.9 204.3h1.05M199.8 204.3h1.05M190.1 205.6h1.05M192.9 205.7h1.05M194.7 205.4h1.05M195.9 205.7h1.05M210.8 205.3h1.05M191.9 206.6h1.05M194.0 206.7h1.05M195.8 206.7h1.05M201.1 206.5h1.05M300.8 206.6h1.05M176.7 207.3h1.05M198.7 207.4h1.05M201.8 207.5h1.05M300.9 207.4h1.05M188.7 208.3h1.05M193.7 208.3h1.05M204.1 208.7h1.05M208.2 208.4h1.05M191.1 209.4h1.05M199.1 209.2h1.05M96.1 210.5h1.05M97.1 210.2h1.05M192.2 210.4h1.05M194.8 210.5h1.05M203.9 210.5h1.05" stroke="#1a1a1a" stroke-width="1.05" fill="none" stroke-opacity="0.9"/>
<path d="M98.8 43.5h1.05M104.4 44.5h1.05M106.2 41.0h1.05M106.2 52.2h1.05M105.6 56.0h1.05M96.9 59.0h1.05M101.9 59.8h1.05M102.5 62.2h1.05M94.4 65.4h1.05M95.6 66.0h1.05M99.4 64.0h1.05M101.9 67.2h1.05M113.1 64.0h1.05M110.0 68.0h1.05M106.9 69.0h1.05M98.8 69.8h1.05M100.0 72.9h1.05M114.4 71.6h1.05M96.2 76.6h1.05M100.6 76.6h1.05M105.0 76.0h1.05M109.4 75.4h1.05M114.4 77.2h1.05M112.5 74.0h1.05M309.4 41.0h1.05M325.0 47.9h1.05M318.8 49.8h1.05M313.8 55.4h1.05M318.1 54.8h1.05M309.4 62.2h1.05M311.9 62.9h1.05M316.2 62.2h1.05M320.0 66.6h1.05M315.6 69.1h1.05M310.0 70.4h1.05M316.9 72.9h1.05M326.9 71.6h1.05M308.1 73.5h1.05M306.9 76.0h1.05M310.6 76.6h1.05M315.6 76.0h1.05M320.0 77.9h1.05M322.5 78.5h1.05M303.8 79.1h1.05M326.2 77.2h1.05M198.9 76.6h1.05M191.3 77.4h1.05M190.9 77.6h1.05M198.4 77.2h1.05M192.7 78.5h1.05M194.6 174.0h1.05M204.8 170.5h1.05M196.7 173.1h1.05M188.8 172.7h1.05M195.9 171.7h1.05M110.1 152.2h1.05M115.8 150.6h1.05M104.8 147.1h1.05M102.6 155.2h1.05M110.5 157.2h1.05M107.4 157.6h1.05M101.9 153.9h1.05M108.1 148.9h1.05M117.3 156.7h1.05M100.4 156.2h1.05M318.8 154.7h1.05M318.0 147.5h1.05M314.6 151.1h1.05M320.4 154.8h1.05M321.2 147.8h1.05M326.6 150.3h1.05M322.0 154.7h1.05M310.4 157.3h1.05M328.6 152.7h1.05M320.8 154.9h1.05" stroke="#3a3a3a" stroke-width="1.05" fill="none" stroke-opacity="0.85"/>
</g>
<rect x="81.2" y="35.7" width="42.60" height="45.30" fill="none" stroke="#7b80b8" stroke-width="1"/>
<path d="M45.5 35H125.5V114" fill="none" stroke="#9a9a9a" stroke-width="1.3"/>
<path d="M45.5 35V114H125.5" fill="none" stroke="#3a3a3a" stroke-width="1"/>
<path d="M43.5 42.5h2M44.3 47.77h1.2M44.3 50.85h1.2M44.3 53.04h1.2M44.3 54.73h1.2M44.3 56.12h1.2M44.3 57.29h1.2M44.3 58.30h1.2M44.3 59.20h1.2M43.5 60.0h2M44.3 65.27h1.2M44.3 68.35h1.2M44.3 70.54h1.2M44.3 72.23h1.2M44.3 73.62h1.2M44.3 74.79h1.2M44.3 75.80h1.2M44.3 76.70h1.2M43.5 77.5h2M44.3 82.77h1.2M44.3 85.85h1.2M44.3 88.04h1.2M44.3 89.73h1.2M44.3 91.12h1.2M44.3 92.29h1.2M44.3 93.30h1.2M44.3 94.20h1.2M43.5 95.0h2M44.3 100.27h1.2M43.5 105.9h2" stroke="#2a2a2a" stroke-width="0.8" fill="none"/>
<path d="M54.50 114v2.2M64.00 114v2.2M82.00 114v2.2M101.00 114v2.2M119.00 114v2.2M69.42 114v1.4M72.59 114v1.4M74.84 114v1.4M76.58 114v1.4M78.01 114v1.4M79.21 114v1.4M80.26 114v1.4M81.18 114v1.4M87.72 114v1.4M91.07 114v1.4M93.44 114v1.4M95.28 114v1.4M96.78 114v1.4M98.06 114v1.4M99.16 114v1.4M100.13 114v1.4M106.42 114v1.4M109.59 114v1.4M111.84 114v1.4M113.58 114v1.4M115.01 114v1.4M116.21 114v1.4M117.26 114v1.4M118.18 114v1.4M47.50 114v1.4M48.50 114v1.4M49.50 114v1.4M50.50 114v1.4M51.50 114v1.4M52.50 114v1.4M53.50 114v1.4M54.50 114v1.4" stroke="#2a2a2a" stroke-width="0.7" fill="none"/>
<rect x="185" y="35.7" width="33.20" height="43.20" fill="none" stroke="#7b80b8" stroke-width="1"/>
<path d="M153.5 35H233.5V114" fill="none" stroke="#9a9a9a" stroke-width="1.3"/>
<path d="M153.5 35V114H233.5" fill="none" stroke="#3a3a3a" stroke-width="1"/>
<path d="M151.5 42.5h2M152.3 47.77h1.2M152.3 50.85h1.2M152.3 53.04h1.2M152.3 54.73h1.2M152.3 56.12h1.2M152.3 57.29h1.2M152.3 58.30h1.2M152.3 59.20h1.2M151.5 60.0h2M152.3 65.27h1.2M152.3 68.35h1.2M152.3 70.54h1.2M152.3 72.23h1.2M152.3 73.62h1.2M152.3 74.79h1.2M152.3 75.80h1.2M152.3 76.70h1.2M151.5 77.5h2M152.3 82.77h1.2M152.3 85.85h1.2M152.3 88.04h1.2M152.3 89.73h1.2M152.3 91.12h1.2M152.3 92.29h1.2M152.3 93.30h1.2M152.3 94.20h1.2M151.5 95.0h2M152.3 100.27h1.2M151.5 105.9h2" stroke="#2a2a2a" stroke-width="0.8" fill="none"/>
<path d="M162.50 114v2.2M172.00 114v2.2M190.00 114v2.2M209.00 114v2.2M227.00 114v2.2M177.42 114v1.4M180.59 114v1.4M182.84 114v1.4M184.58 114v1.4M186.01 114v1.4M187.21 114v1.4M188.26 114v1.4M189.18 114v1.4M195.72 114v1.4M199.07 114v1.4M201.44 114v1.4M203.28 114v1.4M204.78 114v1.4M206.06 114v1.4M207.16 114v1.4M208.13 114v1.4M214.42 114v1.4M217.59 114v1.4M219.84 114v1.4M221.58 114v1.4M223.01 114v1.4M224.21 114v1.4M225.26 114v1.4M226.18 114v1.4M155.50 114v1.4M156.50 114v1.4M157.50 114v1.4M158.50 114v1.4M159.50 114v1.4M160.50 114v1.4M161.50 114v1.4M162.50 114v1.4" stroke="#2a2a2a" stroke-width="0.7" fill="none"/>
<rect x="294.1" y="38.7" width="42.50" height="44.60" fill="none" stroke="#7b80b8" stroke-width="1"/>
<path d="M261.5 35H341.5V114" fill="none" stroke="#9a9a9a" stroke-width="1.3"/>
<path d="M261.5 35V114H341.5" fill="none" stroke="#3a3a3a" stroke-width="1"/>
<path d="M259.5 42.5h2M260.3 47.77h1.2M260.3 50.85h1.2M260.3 53.04h1.2M260.3 54.73h1.2M260.3 56.12h1.2M260.3 57.29h1.2M260.3 58.30h1.2M260.3 59.20h1.2M259.5 60.0h2M260.3 65.27h1.2M260.3 68.35h1.2M260.3 70.54h1.2M260.3 72.23h1.2M260.3 73.62h1.2M260.3 74.79h1.2M260.3 75.80h1.2M260.3 76.70h1.2M259.5 77.5h2M260.3 82.77h1.2M260.3 85.85h1.2M260.3 88.04h1.2M260.3 89.73h1.2M260.3 91.12h1.2M260.3 92.29h1.2M260.3 93.30h1.2M260.3 94.20h1.2M259.5 95.0h2M260.3 100.27h1.2M259.5 105.9h2" stroke="#2a2a2a" stroke-width="0.8" fill="none"/>
<path d="M270.50 114v2.2M280.00 114v2.2M298.00 114v2.2M317.00 114v2.2M335.00 114v2.2M285.42 114v1.4M288.59 114v1.4M290.84 114v1.4M292.58 114v1.4M294.01 114v1.4M295.21 114v1.4M296.26 114v1.4M297.18 114v1.4M303.72 114v1.4M307.07 114v1.4M309.44 114v1.4M311.28 114v1.4M312.78 114v1.4M314.06 114v1.4M315.16 114v1.4M316.13 114v1.4M322.42 114v1.4M325.59 114v1.4M327.84 114v1.4M329.58 114v1.4M331.01 114v1.4M332.21 114v1.4M333.26 114v1.4M334.18 114v1.4M263.50 114v1.4M264.50 114v1.4M265.50 114v1.4M266.50 114v1.4M267.50 114v1.4M268.50 114v1.4M269.50 114v1.4M270.50 114v1.4" stroke="#2a2a2a" stroke-width="0.7" fill="none"/>
<rect x="81.0" y="132.7" width="42.80" height="45.50" fill="none" stroke="#7b80b8" stroke-width="1"/>
<path d="M45.5 132H125.5V211" fill="none" stroke="#9a9a9a" stroke-width="1.3"/>
<path d="M45.5 132V211H125.5" fill="none" stroke="#3a3a3a" stroke-width="1"/>
<path d="M43.5 139.5h2M44.3 144.77h1.2M44.3 147.85h1.2M44.3 150.04h1.2M44.3 151.73h1.2M44.3 153.12h1.2M44.3 154.29h1.2M44.3 155.30h1.2M44.3 156.20h1.2M43.5 157.0h2M44.3 162.27h1.2M44.3 165.35h1.2M44.3 167.54h1.2M44.3 169.23h1.2M44.3 170.62h1.2M44.3 171.79h1.2M44.3 172.80h1.2M44.3 173.70h1.2M43.5 174.5h2M44.3 179.77h1.2M44.3 182.85h1.2M44.3 185.04h1.2M44.3 186.73h1.2M44.3 188.12h1.2M44.3 189.29h1.2M44.3 190.30h1.2M44.3 191.20h1.2M43.5 192.0h2M44.3 197.27h1.2M43.5 202.9h2" stroke="#2a2a2a" stroke-width="0.8" fill="none"/>
<path d="M54.50 211v2.2M64.00 211v2.2M82.00 211v2.2M101.00 211v2.2M119.00 211v2.2M69.42 211v1.4M72.59 211v1.4M74.84 211v1.4M76.58 211v1.4M78.01 211v1.4M79.21 211v1.4M80.26 211v1.4M81.18 211v1.4M87.72 211v1.4M91.07 211v1.4M93.44 211v1.4M95.28 211v1.4M96.78 211v1.4M98.06 211v1.4M99.16 211v1.4M100.13 211v1.4M106.42 211v1.4M109.59 211v1.4M111.84 211v1.4M113.58 211v1.4M115.01 211v1.4M116.21 211v1.4M117.26 211v1.4M118.18 211v1.4M47.50 211v1.4M48.50 211v1.4M49.50 211v1.4M50.50 211v1.4M51.50 211v1.4M52.50 211v1.4M53.50 211v1.4M54.50 211v1.4" stroke="#2a2a2a" stroke-width="0.7" fill="none"/>
<rect x="184.8" y="132.7" width="34.40" height="43.30" fill="none" stroke="#7b80b8" stroke-width="1"/>
<path d="M153.5 132H233.5V211" fill="none" stroke="#9a9a9a" stroke-width="1.3"/>
<path d="M153.5 132V211H233.5" fill="none" stroke="#3a3a3a" stroke-width="1"/>
<path d="M151.5 139.5h2M152.3 144.77h1.2M152.3 147.85h1.2M152.3 150.04h1.2M152.3 151.73h1.2M152.3 153.12h1.2M152.3 154.29h1.2M152.3 155.30h1.2M152.3 156.20h1.2M151.5 157.0h2M152.3 162.27h1.2M152.3 165.35h1.2M152.3 167.54h1.2M152.3 169.23h1.2M152.3 170.62h1.2M152.3 171.79h1.2M152.3 172.80h1.2M152.3 173.70h1.2M151.5 174.5h2M152.3 179.77h1.2M152.3 182.85h1.2M152.3 185.04h1.2M152.3 186.73h1.2M152.3 188.12h1.2M152.3 189.29h1.2M152.3 190.30h1.2M152.3 191.20h1.2M151.5 192.0h2M152.3 197.27h1.2M151.5 202.9h2" stroke="#2a2a2a" stroke-width="0.8" fill="none"/>
<path d="M162.50 211v2.2M172.00 211v2.2M190.00 211v2.2M209.00 211v2.2M227.00 211v2.2M177.42 211v1.4M180.59 211v1.4M182.84 211v1.4M184.58 211v1.4M186.01 211v1.4M187.21 211v1.4M188.26 211v1.4M189.18 211v1.4M195.72 211v1.4M199.07 211v1.4M201.44 211v1.4M203.28 211v1.4M204.78 211v1.4M206.06 211v1.4M207.16 211v1.4M208.13 211v1.4M214.42 211v1.4M217.59 211v1.4M219.84 211v1.4M221.58 211v1.4M223.01 211v1.4M224.21 211v1.4M225.26 211v1.4M226.18 211v1.4M155.50 211v1.4M156.50 211v1.4M157.50 211v1.4M158.50 211v1.4M159.50 211v1.4M160.50 211v1.4M161.50 211v1.4M162.50 211v1.4" stroke="#2a2a2a" stroke-width="0.7" fill="none"/>
<rect x="295.5" y="135.7" width="41.90" height="44.60" fill="none" stroke="#7b80b8" stroke-width="1"/>
<path d="M261.5 132H341.5V211" fill="none" stroke="#9a9a9a" stroke-width="1.3"/>
<path d="M261.5 132V211H341.5" fill="none" stroke="#3a3a3a" stroke-width="1"/>
<path d="M259.5 139.5h2M260.3 144.77h1.2M260.3 147.85h1.2M260.3 150.04h1.2M260.3 151.73h1.2M260.3 153.12h1.2M260.3 154.29h1.2M260.3 155.30h1.2M260.3 156.20h1.2M259.5 157.0h2M260.3 162.27h1.2M260.3 165.35h1.2M260.3 167.54h1.2M260.3 169.23h1.2M260.3 170.62h1.2M260.3 171.79h1.2M260.3 172.80h1.2M260.3 173.70h1.2M259.5 174.5h2M260.3 179.77h1.2M260.3 182.85h1.2M260.3 185.04h1.2M260.3 186.73h1.2M260.3 188.12h1.2M260.3 189.29h1.2M260.3 190.30h1.2M260.3 191.20h1.2M259.5 192.0h2M260.3 197.27h1.2M259.5 202.9h2" stroke="#2a2a2a" stroke-width="0.8" fill="none"/>
<path d="M270.50 211v2.2M280.00 211v2.2M298.00 211v2.2M317.00 211v2.2M335.00 211v2.2M285.42 211v1.4M288.59 211v1.4M290.84 211v1.4M292.58 211v1.4M294.01 211v1.4M295.21 211v1.4M296.26 211v1.4M297.18 211v1.4M303.72 211v1.4M307.07 211v1.4M309.44 211v1.4M311.28 211v1.4M312.78 211v1.4M314.06 211v1.4M315.16 211v1.4M316.13 211v1.4M322.42 211v1.4M325.59 211v1.4M327.84 211v1.4M329.58 211v1.4M331.01 211v1.4M332.21 211v1.4M333.26 211v1.4M334.18 211v1.4M263.50 211v1.4M264.50 211v1.4M265.50 211v1.4M266.50 211v1.4M267.50 211v1.4M268.50 211v1.4M269.50 211v1.4M270.50 211v1.4" stroke="#2a2a2a" stroke-width="0.7" fill="none"/>
<path d="M23.4 106.5V58M23.5 207.9V159.5" stroke="#111" stroke-width="1.15"/>
<path d="M23.4 53.6L21.0 60.8L23.4 59.6L25.8 60.8Z M23.5 154.8L21.1 162L23.5 160.8L25.9 162Z" fill="#111"/>
<path d="M37.5 231.2H294" stroke="#111" stroke-width="1.15"/>
<path d="M299.2 231.2L292.2 228.5L293.5 231.2L292.2 233.9Z" fill="#111"/>
<path d="M380.8 66.9V151.5H489.6" stroke="#1e1e1e" stroke-width="1.1" fill="none"/>
<path d="M378.3 151.50h2.5M378.3 137.88h2.5M378.3 124.27h2.5M378.3 110.65h2.5M378.3 97.03h2.5M378.3 83.42h2.5M378.3 69.80h2.5M397.5 151.5v2.6M422.5 151.5v2.6M447.5 151.5v2.6M472.5 151.5v2.6" stroke="#1e1e1e" stroke-width="0.9" fill="none"/>
<g fill="none" stroke="#a6a6d0" stroke-width="1"><circle cx="394.00" cy="74.43" r="1.7"/><circle cx="400.80" cy="74.16" r="1.7"/><circle cx="397.50" cy="97.03" r="1.7"/><circle cx="397.50" cy="107.65" r="1.7"/><circle cx="394.80" cy="117.19" r="1.7"/><circle cx="400.80" cy="115.82" r="1.7"/><circle cx="391.50" cy="124.27" r="1.7"/><circle cx="397.50" cy="125.63" r="1.7"/><circle cx="404.20" cy="124.27" r="1.7"/><circle cx="397.50" cy="130.80" r="1.7"/></g>
<path d="M388.8 116.37H405.8" stroke="#2a2a2a" stroke-width="1.2"/>
<path d="M414.3 149.9H431.3" stroke="#5a5a4a" stroke-width="1.2"/>
<circle cx="422.75" cy="146.30" r="1.65" fill="#2a1650"/>
<circle cx="421.60" cy="150.20" r="1.1" fill="#1b2f66"/>
<circle cx="428.80" cy="150.20" r="1.1" fill="#2f8a3a"/>
<circle cx="419.00" cy="150.20" r="1.65" fill="#e69a26"/>
<circle cx="425.80" cy="150.20" r="1.65" fill="#b3102c"/>
<path d="M440 123.7H456.3" stroke="#1e1e1e" stroke-width="1.2"/>
<circle cx="448.00" cy="110.60" r="1.65" fill="#1b2f66"/>
<circle cx="444.40" cy="115.80" r="1.65" fill="#2f8a3a"/>
<circle cx="451.10" cy="118.40" r="1.65" fill="#1b2f66"/>
<circle cx="448.00" cy="129.20" r="1.65" fill="#b3102c"/>
<circle cx="451.20" cy="139.30" r="1.65" fill="#b3102c"/>
<circle cx="444.40" cy="142.00" r="1.65" fill="#2f8a3a"/>
<path d="M466 149.2H480" stroke="#8a6a2a" stroke-width="1.2"/>
<circle cx="466.40" cy="148.60" r="1.65" fill="#2a1650"/>
<circle cx="470.50" cy="147.80" r="1.65" fill="#e69a26"/>
<circle cx="473.50" cy="147.80" r="1.65" fill="#e69a26"/>
<circle cx="476.80" cy="148.20" r="1.65" fill="#e69a26"/>
<circle cx="480.20" cy="149.00" r="1.65" fill="#2a1650"/>
<circle cx="498" cy="85.6" r="1.6" fill="none" stroke="#bdb8dc" stroke-width="0.9"/>
<circle cx="498.00" cy="95.00" r="1.6" fill="#1b2f66"/>
<circle cx="498.00" cy="104.50" r="1.6" fill="#b3102c"/>
<circle cx="498.00" cy="113.90" r="1.6" fill="#2f8a3a"/>
<circle cx="498.00" cy="123.30" r="1.6" fill="#e69a26"/>
<circle cx="498.00" cy="132.50" r="1.6" fill="#2a1650"/>
<rect x="103.3" y="326.88" width="22.9" height="53.12" fill="#c60024"/>
<path d="M114.7 326.88V308.83M108.7 308.83H120.7" stroke="#d0304a" stroke-width="1.1"/>
<rect x="140" y="374.77" width="23" height="5.23" fill="#1a4f8c"/>
<path d="M146 373.6H157" stroke="#3a6aa0" stroke-width="0.9"/>
<path d="M90.5 298V380.5H175.8" stroke="#151515" stroke-width="1.1" fill="none"/>
<path d="M87.7 380.00h2.8M87.7 353.83h2.8M87.7 327.67h2.8M87.7 301.50h2.8M114.6 380.0v2.8M151.2 380.0v2.8" stroke="#1e1e1e" stroke-width="1" fill="none"/>
<path d="M116.8 301.2H149.3" stroke="#777" stroke-width="1"/>
<g fill="#333"><circle cx="131.6" cy="298.1" r="0.85"/><circle cx="134.5" cy="298.1" r="0.85"/></g>
<rect x="227.3" y="342.42" width="23.4" height="37.58" fill="#c60024"/>
<path d="M239 342.42V311.72M232.9 311.72H245.1" stroke="#d0304a" stroke-width="1.1"/>
<rect x="264" y="378.6" width="23" height="1.4" fill="#1a4f8c"/>
<path d="M270 378.2H281" stroke="#3a6aa0" stroke-width="0.7"/>
<path d="M214.5 298.2V380.5H300" stroke="#151515" stroke-width="1.1" fill="none"/>
<path d="M211.7 379.80h2.8M211.7 364.06h2.8M211.7 348.32h2.8M211.7 332.58h2.8M211.7 316.84h2.8M211.7 301.10h2.8M239 380v2.8M275.2 380v2.8" stroke="#1e1e1e" stroke-width="1" fill="none"/>
<path d="M240.5 301H273.8" stroke="#777" stroke-width="1"/>
<g fill="#333"><circle cx="255.6" cy="297.9" r="0.85"/><circle cx="258.5" cy="297.9" r="0.85"/></g>
<path d="M347.5 289.2V380.5H431" stroke="#151515" stroke-width="1.1" fill="none"/>
<path d="M344.7 380.00h2.8M344.7 362.40h2.8M344.7 344.80h2.8M344.7 327.20h2.8M344.7 309.60h2.8M344.7 292.00h2.8M364.2 380v2.8M389 380v2.8M414.2 380v2.8" stroke="#1e1e1e" stroke-width="1" fill="none"/>
<g fill="none" stroke="#a6a6d0" stroke-width="1"><circle cx="363.75" cy="311.36" r="1.7"/><circle cx="363.75" cy="315.76" r="1.7"/><circle cx="363.85" cy="323.50" r="1.7"/><circle cx="360.55" cy="340.93" r="1.7"/><circle cx="367.65" cy="339.17" r="1.7"/><circle cx="363.85" cy="345.68" r="1.7"/><circle cx="360.55" cy="350.78" r="1.7"/><circle cx="367.65" cy="350.78" r="1.7"/><circle cx="363.85" cy="358.18" r="1.7"/></g>
<path d="M355.8 341.28H372.5" stroke="#1e1e1e" stroke-width="1.2"/>
<path d="M381 378.9H397" stroke="#333" stroke-width="1.2"/>
<circle cx="382.20" cy="378.80" r="1.65" fill="#b3102c"/>
<circle cx="389.20" cy="376.90" r="1.65" fill="#2a1650"/>
<circle cx="388.00" cy="378.60" r="1.65" fill="#1b2f66"/>
<circle cx="395.60" cy="378.80" r="1.65" fill="#e69a26"/>
<path d="M407 355.54H420.8" stroke="#1e1e1e" stroke-width="1.2"/>
<circle cx="414.30" cy="347.60" r="1.65" fill="#1b2f66"/>
<circle cx="414.30" cy="352.10" r="1.65" fill="#2f8a3a"/>
<circle cx="407.00" cy="355.54" r="1.65" fill="#1b2f66"/>
<circle cx="420.80" cy="355.54" r="1.65" fill="#b3102c"/>
<circle cx="417.00" cy="367.50" r="1.65" fill="#b3102c"/>
<circle cx="410.80" cy="370.00" r="1.65" fill="#2f8a3a"/>
<circle cx="441.6" cy="311.2" r="1.7" fill="none" stroke="#b5b0dc" stroke-width="1"/>
<circle cx="441.60" cy="320.50" r="1.75" fill="#1b2f66"/>
<circle cx="441.60" cy="329.70" r="1.75" fill="#b3102c"/>
<circle cx="441.60" cy="339.20" r="1.75" fill="#2f8a3a"/>
<circle cx="441.60" cy="348.70" r="1.75" fill="#e69a26"/>
<circle cx="441.60" cy="358.00" r="1.75" fill="#2a1650"/>
<g style="filter:grayscale(1)"><text x="6.40" y="16.30" font-size="11.4" fill="#111" font-weight="bold" stroke="#111" stroke-width="0.5">G</text><text x="52.50" y="260.60" font-size="11.4" fill="#111" font-weight="bold" stroke="#111" stroke-width="0.5">H</text><text x="315.50" y="260.60" font-size="11.4" fill="#111" font-weight="bold" stroke="#111" stroke-width="0.5">I</text><text x="85.90" y="30.00" font-size="9.6" text-anchor="middle" textLength="11.40" lengthAdjust="spacingAndGlyphs" stroke="#262626" stroke-width="0.22">HC</text><text x="193.50" y="30.00" font-size="9.6" text-anchor="middle" textLength="50.20" lengthAdjust="spacingAndGlyphs" stroke="#262626" stroke-width="0.22">WAS PRE GT</text><text x="302.00" y="30.00" font-size="9.6" text-anchor="middle" textLength="74.40" lengthAdjust="spacingAndGlyphs" stroke="#262626" stroke-width="0.22">WAS POST GT (2Y)</text><text x="32.10" y="44.60" font-size="6.6" textLength="6.00" lengthAdjust="spacingAndGlyphs" stroke="#262626" stroke-width="0.12">10</text><text x="38.20" y="41.60" font-size="4.0" stroke="#262626" stroke-width="0.12">5</text><text x="32.10" y="62.10" font-size="6.6" textLength="6.00" lengthAdjust="spacingAndGlyphs" stroke="#262626" stroke-width="0.12">10</text><text x="38.20" y="59.10" font-size="4.0" stroke="#262626" stroke-width="0.12">4</text><text x="32.10" y="79.60" font-size="6.6" textLength="6.00" lengthAdjust="spacingAndGlyphs" stroke="#262626" stroke-width="0.12">10</text><text x="38.20" y="76.60" font-size="4.0" stroke="#262626" stroke-width="0.12">3</text><text x="32.10" y="97.10" font-size="6.6" textLength="6.00" lengthAdjust="spacingAndGlyphs" stroke="#262626" stroke-width="0.12">10</text><text x="38.20" y="94.10" font-size="4.0" stroke="#262626" stroke-width="0.12">2</text><text x="37.60" y="108.30" font-size="6.6" textLength="3.20" lengthAdjust="spacingAndGlyphs" stroke="#262626" stroke-width="0.12">0</text><text x="52.80" y="124.40" font-size="6.6" textLength="3.20" lengthAdjust="spacingAndGlyphs" stroke="#262626" stroke-width="0.12">0</text><text x="59.40" y="124.40" font-size="6.6" textLength="6.20" lengthAdjust="spacingAndGlyphs" stroke="#262626" stroke-width="0.12">10</text><text x="65.80" y="121.40" font-size="4.0" stroke="#262626" stroke-width="0.1">2</text><text x="78.40" y="124.40" font-size="6.6" textLength="6.20" lengthAdjust="spacingAndGlyphs" stroke="#262626" stroke-width="0.12">10</text><text x="84.80" y="121.40" font-size="4.0" stroke="#262626" stroke-width="0.1">3</text><text x="97.40" y="124.40" font-size="6.6" textLength="6.20" lengthAdjust="spacingAndGlyphs" stroke="#262626" stroke-width="0.12">10</text><text x="103.80" y="121.40" font-size="4.0" stroke="#262626" stroke-width="0.1">4</text><text x="114.30" y="124.40" font-size="6.6" textLength="6.20" lengthAdjust="spacingAndGlyphs" stroke="#262626" stroke-width="0.12">10</text><text x="120.70" y="121.40" font-size="4.0" stroke="#262626" stroke-width="0.1">5</text><text x="115.80" y="47.30" font-size="6.8" text-anchor="middle" textLength="8.80" lengthAdjust="spacingAndGlyphs" stroke="#262626" stroke-width="0.22">0.9</text><text x="140.10" y="44.60" font-size="6.6" textLength="6.00" lengthAdjust="spacingAndGlyphs" stroke="#262626" stroke-width="0.12">10</text><text x="146.20" y="41.60" font-size="4.0" stroke="#262626" stroke-width="0.12">5</text><text x="140.10" y="62.10" font-size="6.6" textLength="6.00" lengthAdjust="spacingAndGlyphs" stroke="#262626" stroke-width="0.12">10</text><text x="146.20" y="59.10" font-size="4.0" stroke="#262626" stroke-width="0.12">4</text><text x="140.10" y="79.60" font-size="6.6" textLength="6.00" lengthAdjust="spacingAndGlyphs" stroke="#262626" stroke-width="0.12">10</text><text x="146.20" y="76.60" font-size="4.0" stroke="#262626" stroke-width="0.12">3</text><text x="140.10" y="97.10" font-size="6.6" textLength="6.00" lengthAdjust="spacingAndGlyphs" stroke="#262626" stroke-width="0.12">10</text><text x="146.20" y="94.10" font-size="4.0" stroke="#262626" stroke-width="0.12">2</text><text x="145.60" y="108.30" font-size="6.6" textLength="3.20" lengthAdjust="spacingAndGlyphs" stroke="#262626" stroke-width="0.12">0</text><text x="160.80" y="124.40" font-size="6.6" textLength="3.20" lengthAdjust="spacingAndGlyphs" stroke="#262626" stroke-width="0.12">0</text><text x="167.40" y="124.40" font-size="6.6" textLength="6.20" lengthAdjust="spacingAndGlyphs" stroke="#262626" stroke-width="0.12">10</text><text x="173.80" y="121.40" font-size="4.0" stroke="#262626" stroke-width="0.1">2</text><text x="186.40" y="124.40" font-size="6.6" textLength="6.20" lengthAdjust="spacingAndGlyphs" stroke="#262626" stroke-width="0.12">10</text><text x="192.80" y="121.40" font-size="4.0" stroke="#262626" stroke-width="0.1">3</text><text x="205.40" y="124.40" font-size="6.6" textLength="6.20" lengthAdjust="spacingAndGlyphs" stroke="#262626" stroke-width="0.12">10</text><text x="211.80" y="121.40" font-size="4.0" stroke="#262626" stroke-width="0.1">4</text><text x="222.30" y="124.40" font-size="6.6" textLength="6.20" lengthAdjust="spacingAndGlyphs" stroke="#262626" stroke-width="0.12">10</text><text x="228.70" y="121.40" font-size="4.0" stroke="#262626" stroke-width="0.1">5</text><text x="211.20" y="43.70" font-size="6.8" text-anchor="middle" textLength="11.80" lengthAdjust="spacingAndGlyphs" stroke="#262626" stroke-width="0.22">0.52</text><text x="248.10" y="44.60" font-size="6.6" textLength="6.00" lengthAdjust="spacingAndGlyphs" stroke="#262626" stroke-width="0.12">10</text><text x="254.20" y="41.60" font-size="4.0" stroke="#262626" stroke-width="0.12">5</text><text x="248.10" y="62.10" font-size="6.6" textLength="6.00" lengthAdjust="spacingAndGlyphs" stroke="#262626" stroke-width="0.12">10</text><text x="254.20" y="59.10" font-size="4.0" stroke="#262626" stroke-width="0.12">4</text><text x="248.10" y="79.60" font-size="6.6" textLength="6.00" lengthAdjust="spacingAndGlyphs" stroke="#262626" stroke-width="0.12">10</text><text x="254.20" y="76.60" font-size="4.0" stroke="#262626" stroke-width="0.12">3</text><text x="248.10" y="97.10" font-size="6.6" textLength="6.00" lengthAdjust="spacingAndGlyphs" stroke="#262626" stroke-width="0.12">10</text><text x="254.20" y="94.10" font-size="4.0" stroke="#262626" stroke-width="0.12">2</text><text x="253.60" y="108.30" font-size="6.6" textLength="3.20" lengthAdjust="spacingAndGlyphs" stroke="#262626" stroke-width="0.12">0</text><text x="268.80" y="124.40" font-size="6.6" textLength="3.20" lengthAdjust="spacingAndGlyphs" stroke="#262626" stroke-width="0.12">0</text><text x="275.40" y="124.40" font-size="6.6" textLength="6.20" lengthAdjust="spacingAndGlyphs" stroke="#262626" stroke-width="0.12">10</text><text x="281.80" y="121.40" font-size="4.0" stroke="#262626" stroke-width="0.1">2</text><text x="294.40" y="124.40" font-size="6.6" textLength="6.20" lengthAdjust="spacingAndGlyphs" stroke="#262626" stroke-width="0.12">10</text><text x="300.80" y="121.40" font-size="4.0" stroke="#262626" stroke-width="0.1">3</text><text x="313.40" y="124.40" font-size="6.6" textLength="6.20" lengthAdjust="spacingAndGlyphs" stroke="#262626" stroke-width="0.12">10</text><text x="319.80" y="121.40" font-size="4.0" stroke="#262626" stroke-width="0.1">4</text><text x="330.30" y="124.40" font-size="6.6" textLength="6.20" lengthAdjust="spacingAndGlyphs" stroke="#262626" stroke-width="0.12">10</text><text x="336.70" y="121.40" font-size="4.0" stroke="#262626" stroke-width="0.1">5</text><text x="329.40" y="46.10" font-size="6.8" text-anchor="middle" textLength="12.40" lengthAdjust="spacingAndGlyphs" stroke="#262626" stroke-width="0.22">0.97</text><text x="32.10" y="141.60" font-size="6.6" textLength="6.00" lengthAdjust="spacingAndGlyphs" stroke="#262626" stroke-width="0.12">10</text><text x="38.20" y="138.60" font-size="4.0" stroke="#262626" stroke-width="0.12">5</text><text x="32.10" y="159.10" font-size="6.6" textLength="6.00" lengthAdjust="spacingAndGlyphs" stroke="#262626" stroke-width="0.12">10</text><text x="38.20" y="156.10" font-size="4.0" stroke="#262626" stroke-width="0.12">4</text><text x="32.10" y="176.60" font-size="6.6" textLength="6.00" lengthAdjust="spacingAndGlyphs" stroke="#262626" stroke-width="0.12">10</text><text x="38.20" y="173.60" font-size="4.0" stroke="#262626" stroke-width="0.12">3</text><text x="32.10" y="194.10" font-size="6.6" textLength="6.00" lengthAdjust="spacingAndGlyphs" stroke="#262626" stroke-width="0.12">10</text><text x="38.20" y="191.10" font-size="4.0" stroke="#262626" stroke-width="0.12">2</text><text x="37.60" y="205.30" font-size="6.6" textLength="3.20" lengthAdjust="spacingAndGlyphs" stroke="#262626" stroke-width="0.12">0</text><text x="52.80" y="221.40" font-size="6.6" textLength="3.20" lengthAdjust="spacingAndGlyphs" stroke="#262626" stroke-width="0.12">0</text><text x="59.40" y="221.40" font-size="6.6" textLength="6.20" lengthAdjust="spacingAndGlyphs" stroke="#262626" stroke-width="0.12">10</text><text x="65.80" y="218.40" font-size="4.0" stroke="#262626" stroke-width="0.1">2</text><text x="78.40" y="221.40" font-size="6.6" textLength="6.20" lengthAdjust="spacingAndGlyphs" stroke="#262626" stroke-width="0.12">10</text><text x="84.80" y="218.40" font-size="4.0" stroke="#262626" stroke-width="0.1">3</text><text x="97.40" y="221.40" font-size="6.6" textLength="6.20" lengthAdjust="spacingAndGlyphs" stroke="#262626" stroke-width="0.12">10</text><text x="103.80" y="218.40" font-size="4.0" stroke="#262626" stroke-width="0.1">4</text><text x="114.30" y="221.40" font-size="6.6" textLength="6.20" lengthAdjust="spacingAndGlyphs" stroke="#262626" stroke-width="0.12">10</text><text x="120.70" y="218.40" font-size="4.0" stroke="#262626" stroke-width="0.1">5</text><text x="117.00" y="143.90" font-size="6.8" text-anchor="middle" textLength="11.40" lengthAdjust="spacingAndGlyphs" stroke="#262626" stroke-width="0.22">16.2</text><text x="140.10" y="141.60" font-size="6.6" textLength="6.00" lengthAdjust="spacingAndGlyphs" stroke="#262626" stroke-width="0.12">10</text><text x="146.20" y="138.60" font-size="4.0" stroke="#262626" stroke-width="0.12">5</text><text x="140.10" y="159.10" font-size="6.6" textLength="6.00" lengthAdjust="spacingAndGlyphs" stroke="#262626" stroke-width="0.12">10</text><text x="146.20" y="156.10" font-size="4.0" stroke="#262626" stroke-width="0.12">4</text><text x="140.10" y="176.60" font-size="6.6" textLength="6.00" lengthAdjust="spacingAndGlyphs" stroke="#262626" stroke-width="0.12">10</text><text x="146.20" y="173.60" font-size="4.0" stroke="#262626" stroke-width="0.12">3</text><text x="140.10" y="194.10" font-size="6.6" textLength="6.00" lengthAdjust="spacingAndGlyphs" stroke="#262626" stroke-width="0.12">10</text><text x="146.20" y="191.10" font-size="4.0" stroke="#262626" stroke-width="0.12">2</text><text x="145.60" y="205.30" font-size="6.6" textLength="3.20" lengthAdjust="spacingAndGlyphs" stroke="#262626" stroke-width="0.12">0</text><text x="160.80" y="221.40" font-size="6.6" textLength="3.20" lengthAdjust="spacingAndGlyphs" stroke="#262626" stroke-width="0.12">0</text><text x="167.40" y="221.40" font-size="6.6" textLength="6.20" lengthAdjust="spacingAndGlyphs" stroke="#262626" stroke-width="0.12">10</text><text x="173.80" y="218.40" font-size="4.0" stroke="#262626" stroke-width="0.1">2</text><text x="186.40" y="221.40" font-size="6.6" textLength="6.20" lengthAdjust="spacingAndGlyphs" stroke="#262626" stroke-width="0.12">10</text><text x="192.80" y="218.40" font-size="4.0" stroke="#262626" stroke-width="0.1">3</text><text x="205.40" y="221.40" font-size="6.6" textLength="6.20" lengthAdjust="spacingAndGlyphs" stroke="#262626" stroke-width="0.12">10</text><text x="211.80" y="218.40" font-size="4.0" stroke="#262626" stroke-width="0.1">4</text><text x="222.30" y="221.40" font-size="6.6" textLength="6.20" lengthAdjust="spacingAndGlyphs" stroke="#262626" stroke-width="0.12">10</text><text x="228.70" y="218.40" font-size="4.0" stroke="#262626" stroke-width="0.1">5</text><text x="211.20" y="141.90" font-size="6.8" text-anchor="middle" textLength="11.80" lengthAdjust="spacingAndGlyphs" stroke="#262626" stroke-width="0.22">0.59</text><text x="248.10" y="141.60" font-size="6.6" textLength="6.00" lengthAdjust="spacingAndGlyphs" stroke="#262626" stroke-width="0.12">10</text><text x="254.20" y="138.60" font-size="4.0" stroke="#262626" stroke-width="0.12">5</text><text x="248.10" y="159.10" font-size="6.6" textLength="6.00" lengthAdjust="spacingAndGlyphs" stroke="#262626" stroke-width="0.12">10</text><text x="254.20" y="156.10" font-size="4.0" stroke="#262626" stroke-width="0.12">4</text><text x="248.10" y="176.60" font-size="6.6" textLength="6.00" lengthAdjust="spacingAndGlyphs" stroke="#262626" stroke-width="0.12">10</text><text x="254.20" y="173.60" font-size="4.0" stroke="#262626" stroke-width="0.12">3</text><text x="248.10" y="194.10" font-size="6.6" textLength="6.00" lengthAdjust="spacingAndGlyphs" stroke="#262626" stroke-width="0.12">10</text><text x="254.20" y="191.10" font-size="4.0" stroke="#262626" stroke-width="0.12">2</text><text x="253.60" y="205.30" font-size="6.6" textLength="3.20" lengthAdjust="spacingAndGlyphs" stroke="#262626" stroke-width="0.12">0</text><text x="268.80" y="221.40" font-size="6.6" textLength="3.20" lengthAdjust="spacingAndGlyphs" stroke="#262626" stroke-width="0.12">0</text><text x="275.40" y="221.40" font-size="6.6" textLength="6.20" lengthAdjust="spacingAndGlyphs" stroke="#262626" stroke-width="0.12">10</text><text x="281.80" y="218.40" font-size="4.0" stroke="#262626" stroke-width="0.1">2</text><text x="294.40" y="221.40" font-size="6.6" textLength="6.20" lengthAdjust="spacingAndGlyphs" stroke="#262626" stroke-width="0.12">10</text><text x="300.80" y="218.40" font-size="4.0" stroke="#262626" stroke-width="0.1">3</text><text x="313.40" y="221.40" font-size="6.6" textLength="6.20" lengthAdjust="spacingAndGlyphs" stroke="#262626" stroke-width="0.12">10</text><text x="319.80" y="218.40" font-size="4.0" stroke="#262626" stroke-width="0.1">4</text><text x="330.30" y="221.40" font-size="6.6" textLength="6.20" lengthAdjust="spacingAndGlyphs" stroke="#262626" stroke-width="0.12">10</text><text x="336.70" y="218.40" font-size="4.0" stroke="#262626" stroke-width="0.1">5</text><text x="330.20" y="143.90" font-size="6.8" text-anchor="middle" textLength="11.60" lengthAdjust="spacingAndGlyphs" stroke="#262626" stroke-width="0.22">8.31</text><text x="26.20" y="49.60" font-size="8.2" textLength="7.60" lengthAdjust="spacingAndGlyphs" stroke="#262626" stroke-width="0.22" transform="rotate(-90 26.20 49.60)">Iso</text><text x="26.30" y="151.60" font-size="8.2" textLength="14.60" lengthAdjust="spacingAndGlyphs" stroke="#262626" stroke-width="0.22" transform="rotate(-90 26.30 151.60)">IL-10</text><text x="302.60" y="233.60" font-size="8.6" textLength="16.20" lengthAdjust="spacingAndGlyphs" stroke="#262626" stroke-width="0.22">CD19</text><text x="435.10" y="62.00" font-size="9.3" text-anchor="middle" textLength="56.60" lengthAdjust="spacingAndGlyphs" stroke="#262626" stroke-width="0.22">Total Bregs (%)</text><text x="375.00" y="153.80" font-size="6.8" text-anchor="end" textLength="3.10" lengthAdjust="spacingAndGlyphs" stroke="#262626" stroke-width="0.22">0</text><text x="375.00" y="140.18" font-size="6.8" text-anchor="end" textLength="3.10" lengthAdjust="spacingAndGlyphs" stroke="#262626" stroke-width="0.22">5</text><text x="375.00" y="126.57" font-size="6.8" text-anchor="end" textLength="6.30" lengthAdjust="spacingAndGlyphs" stroke="#262626" stroke-width="0.22">10</text><text x="375.00" y="112.95" font-size="6.8" text-anchor="end" textLength="6.30" lengthAdjust="spacingAndGlyphs" stroke="#262626" stroke-width="0.22">15</text><text x="375.00" y="99.33" font-size="6.8" text-anchor="end" textLength="6.30" lengthAdjust="spacingAndGlyphs" stroke="#262626" stroke-width="0.22">20</text><text x="375.00" y="85.72" font-size="6.8" text-anchor="end" textLength="6.30" lengthAdjust="spacingAndGlyphs" stroke="#262626" stroke-width="0.22">25</text><text x="375.00" y="72.10" font-size="6.8" text-anchor="end" textLength="6.30" lengthAdjust="spacingAndGlyphs" stroke="#262626" stroke-width="0.22">30</text><text x="362.40" y="140.60" font-size="7.3" textLength="62.60" lengthAdjust="spacingAndGlyphs" stroke="#262626" stroke-width="0.22" transform="rotate(-90 362.40 140.60)">% IL10+CD19+ cells</text><text x="400.90" y="158.90" font-size="6.6" text-anchor="end" textLength="12.20" lengthAdjust="spacingAndGlyphs" stroke="#262626" stroke-width="0.22" transform="rotate(-45 400.90 158.90)">HC</text><text x="425.90" y="158.90" font-size="6.6" text-anchor="end" textLength="23.50" lengthAdjust="spacingAndGlyphs" stroke="#262626" stroke-width="0.22" transform="rotate(-45 425.90 158.90)">PRE GT</text><text x="450.90" y="158.90" font-size="6.6" text-anchor="end" textLength="43.50" lengthAdjust="spacingAndGlyphs" stroke="#262626" stroke-width="0.22" transform="rotate(-45 450.90 158.90)">POST GT (AI–)</text><text x="475.90" y="158.90" font-size="6.6" text-anchor="end" textLength="45.00" lengthAdjust="spacingAndGlyphs" stroke="#262626" stroke-width="0.22" transform="rotate(-45 475.90 158.90)">POST GT (AI+)</text><text x="502.70" y="87.90" font-size="6.6" textLength="8.40" lengthAdjust="spacingAndGlyphs" stroke="#262626" stroke-width="0.08">HC</text><text x="502.70" y="97.30" font-size="6.6" textLength="10.20" lengthAdjust="spacingAndGlyphs" stroke="#262626" stroke-width="0.08">Pt 1</text><text x="502.70" y="106.80" font-size="6.6" textLength="10.20" lengthAdjust="spacingAndGlyphs" stroke="#262626" stroke-width="0.08">Pt 2</text><text x="502.70" y="116.20" font-size="6.6" textLength="10.20" lengthAdjust="spacingAndGlyphs" stroke="#262626" stroke-width="0.08">Pt 3</text><text x="502.70" y="125.60" font-size="6.6" textLength="10.20" lengthAdjust="spacingAndGlyphs" stroke="#262626" stroke-width="0.08">Pt 4</text><text x="502.70" y="134.80" font-size="6.6" textLength="10.20" lengthAdjust="spacingAndGlyphs" stroke="#262626" stroke-width="0.08">Pt 5</text><text x="133.60" y="280.00" font-size="9.3" text-anchor="middle" textLength="43.50" lengthAdjust="spacingAndGlyphs" stroke="#262626" stroke-width="0.22">Total Bregs</text><text x="133.30" y="290.40" font-size="9.3" text-anchor="middle" textLength="44.80" lengthAdjust="spacingAndGlyphs" stroke="#262626" stroke-width="0.22">post GT (%)</text><text x="84.60" y="381.30" font-size="6.8" text-anchor="end" textLength="3.10" lengthAdjust="spacingAndGlyphs" stroke="#262626" stroke-width="0.22">0</text><text x="84.60" y="355.13" font-size="6.8" text-anchor="end" textLength="3.10" lengthAdjust="spacingAndGlyphs" stroke="#262626" stroke-width="0.22">5</text><text x="84.60" y="328.97" font-size="6.8" text-anchor="end" textLength="6.20" lengthAdjust="spacingAndGlyphs" stroke="#262626" stroke-width="0.22">10</text><text x="84.60" y="302.80" font-size="6.8" text-anchor="end" textLength="6.20" lengthAdjust="spacingAndGlyphs" stroke="#262626" stroke-width="0.22">15</text><text x="72.90" y="373.80" font-size="7.2" textLength="68.70" lengthAdjust="spacingAndGlyphs" stroke="#262626" stroke-width="0.22" transform="rotate(-90 72.90 373.80)">IL10+CD19+ cells (%)</text><text x="114.60" y="391.60" font-size="6.6" text-anchor="middle" textLength="11.00" lengthAdjust="spacingAndGlyphs" stroke="#262626" stroke-width="0.22">AI –</text><text x="151.20" y="391.60" font-size="6.6" text-anchor="middle" textLength="11.30" lengthAdjust="spacingAndGlyphs" stroke="#262626" stroke-width="0.22">AI +</text><text x="257.10" y="279.80" font-size="9.3" text-anchor="middle" textLength="43.10" lengthAdjust="spacingAndGlyphs" stroke="#262626" stroke-width="0.22">Total Bregs</text><text x="257.50" y="290.40" font-size="9.3" text-anchor="middle" textLength="70.80" lengthAdjust="spacingAndGlyphs" stroke="#262626" stroke-width="0.22">post GT (absolute)</text><text x="207.80" y="382.10" font-size="6.6" text-anchor="end" textLength="3.00" lengthAdjust="spacingAndGlyphs" stroke="#262626" stroke-width="0.22">0</text><text x="207.80" y="366.36" font-size="6.6" text-anchor="end" textLength="5.90" lengthAdjust="spacingAndGlyphs" stroke="#262626" stroke-width="0.22">20</text><text x="207.80" y="350.62" font-size="6.6" text-anchor="end" textLength="5.90" lengthAdjust="spacingAndGlyphs" stroke="#262626" stroke-width="0.22">40</text><text x="207.80" y="334.88" font-size="6.6" text-anchor="end" textLength="5.90" lengthAdjust="spacingAndGlyphs" stroke="#262626" stroke-width="0.22">60</text><text x="207.80" y="319.14" font-size="6.6" text-anchor="end" textLength="5.90" lengthAdjust="spacingAndGlyphs" stroke="#262626" stroke-width="0.22">80</text><text x="207.80" y="303.40" font-size="6.6" text-anchor="end" textLength="8.80" lengthAdjust="spacingAndGlyphs" stroke="#262626" stroke-width="0.22">100</text><text x="192.60" y="380.40" font-size="7.2" textLength="83.50" lengthAdjust="spacingAndGlyphs" stroke="#262626" stroke-width="0.22" transform="rotate(-90 192.60 380.40)">IL10+CD19+ cells (cells/uL)</text><text x="239.00" y="391.60" font-size="6.6" text-anchor="middle" textLength="11.00" lengthAdjust="spacingAndGlyphs" stroke="#262626" stroke-width="0.22">AI –</text><text x="275.20" y="391.60" font-size="6.6" text-anchor="middle" textLength="11.30" lengthAdjust="spacingAndGlyphs" stroke="#262626" stroke-width="0.22">AI +</text><text x="389.20" y="274.60" font-size="9.1" text-anchor="middle" textLength="47.20" lengthAdjust="spacingAndGlyphs" stroke="#262626" stroke-width="0.22">Bregs within</text><text x="389.00" y="284.30" font-size="9.1" text-anchor="middle" textLength="81.60" lengthAdjust="spacingAndGlyphs" stroke="#262626" stroke-width="0.22">transitional B cells (%)</text><text x="341.20" y="382.50" font-size="6.8" text-anchor="end" textLength="3.00" lengthAdjust="spacingAndGlyphs" stroke="#262626" stroke-width="0.22">0</text><text x="341.20" y="364.90" font-size="6.8" text-anchor="end" textLength="5.90" lengthAdjust="spacingAndGlyphs" stroke="#262626" stroke-width="0.22">10</text><text x="341.20" y="347.30" font-size="6.8" text-anchor="end" textLength="5.90" lengthAdjust="spacingAndGlyphs" stroke="#262626" stroke-width="0.22">20</text><text x="341.20" y="329.70" font-size="6.8" text-anchor="end" textLength="5.90" lengthAdjust="spacingAndGlyphs" stroke="#262626" stroke-width="0.22">30</text><text x="341.20" y="312.10" font-size="6.8" text-anchor="end" textLength="5.90" lengthAdjust="spacingAndGlyphs" stroke="#262626" stroke-width="0.22">40</text><text x="341.20" y="294.50" font-size="6.8" text-anchor="end" textLength="5.90" lengthAdjust="spacingAndGlyphs" stroke="#262626" stroke-width="0.22">50</text><text x="330.00" y="379.80" font-size="7.4" textLength="91.00" lengthAdjust="spacingAndGlyphs" stroke="#262626" stroke-width="0.22" transform="rotate(-90 330.00 379.80)">%IL10+CD19+CD24hiCD38hi</text><text x="368.50" y="387.90" font-size="6.4" text-anchor="end" textLength="11.60" lengthAdjust="spacingAndGlyphs" stroke="#262626" stroke-width="0.22" transform="rotate(-45 368.50 387.90)">HC</text><text x="393.30" y="387.90" font-size="6.4" text-anchor="end" textLength="23.20" lengthAdjust="spacingAndGlyphs" stroke="#262626" stroke-width="0.22" transform="rotate(-45 393.30 387.90)">PRE GT</text><text x="418.50" y="387.90" font-size="6.4" text-anchor="end" textLength="43.20" lengthAdjust="spacingAndGlyphs" stroke="#262626" stroke-width="0.22" transform="rotate(-45 418.50 387.90)">POST GT (AI–)</text><text x="446.30" y="313.30" font-size="6.0" textLength="7.90" lengthAdjust="spacingAndGlyphs" stroke="#262626" stroke-width="0.1">HC</text><text x="446.30" y="322.60" font-size="6.0" textLength="9.60" lengthAdjust="spacingAndGlyphs" stroke="#262626" stroke-width="0.1">Pt 1</text><text x="446.30" y="331.80" font-size="6.0" textLength="9.60" lengthAdjust="spacingAndGlyphs" stroke="#262626" stroke-width="0.1">Pt 2</text><text x="446.30" y="341.30" font-size="6.0" textLength="9.60" lengthAdjust="spacingAndGlyphs" stroke="#262626" stroke-width="0.1">Pt 3</text><text x="446.30" y="350.80" font-size="6.0" textLength="9.60" lengthAdjust="spacingAndGlyphs" stroke="#262626" stroke-width="0.1">Pt 4</text><text x="446.30" y="360.10" font-size="6.0" textLength="9.60" lengthAdjust="spacingAndGlyphs" stroke="#262626" stroke-width="0.1">Pt 5</text></g>
<rect x="0.5" y="0.5" width="519" height="425" fill="none" stroke="#555" stroke-width="1"/>
</svg>
</body></html>
